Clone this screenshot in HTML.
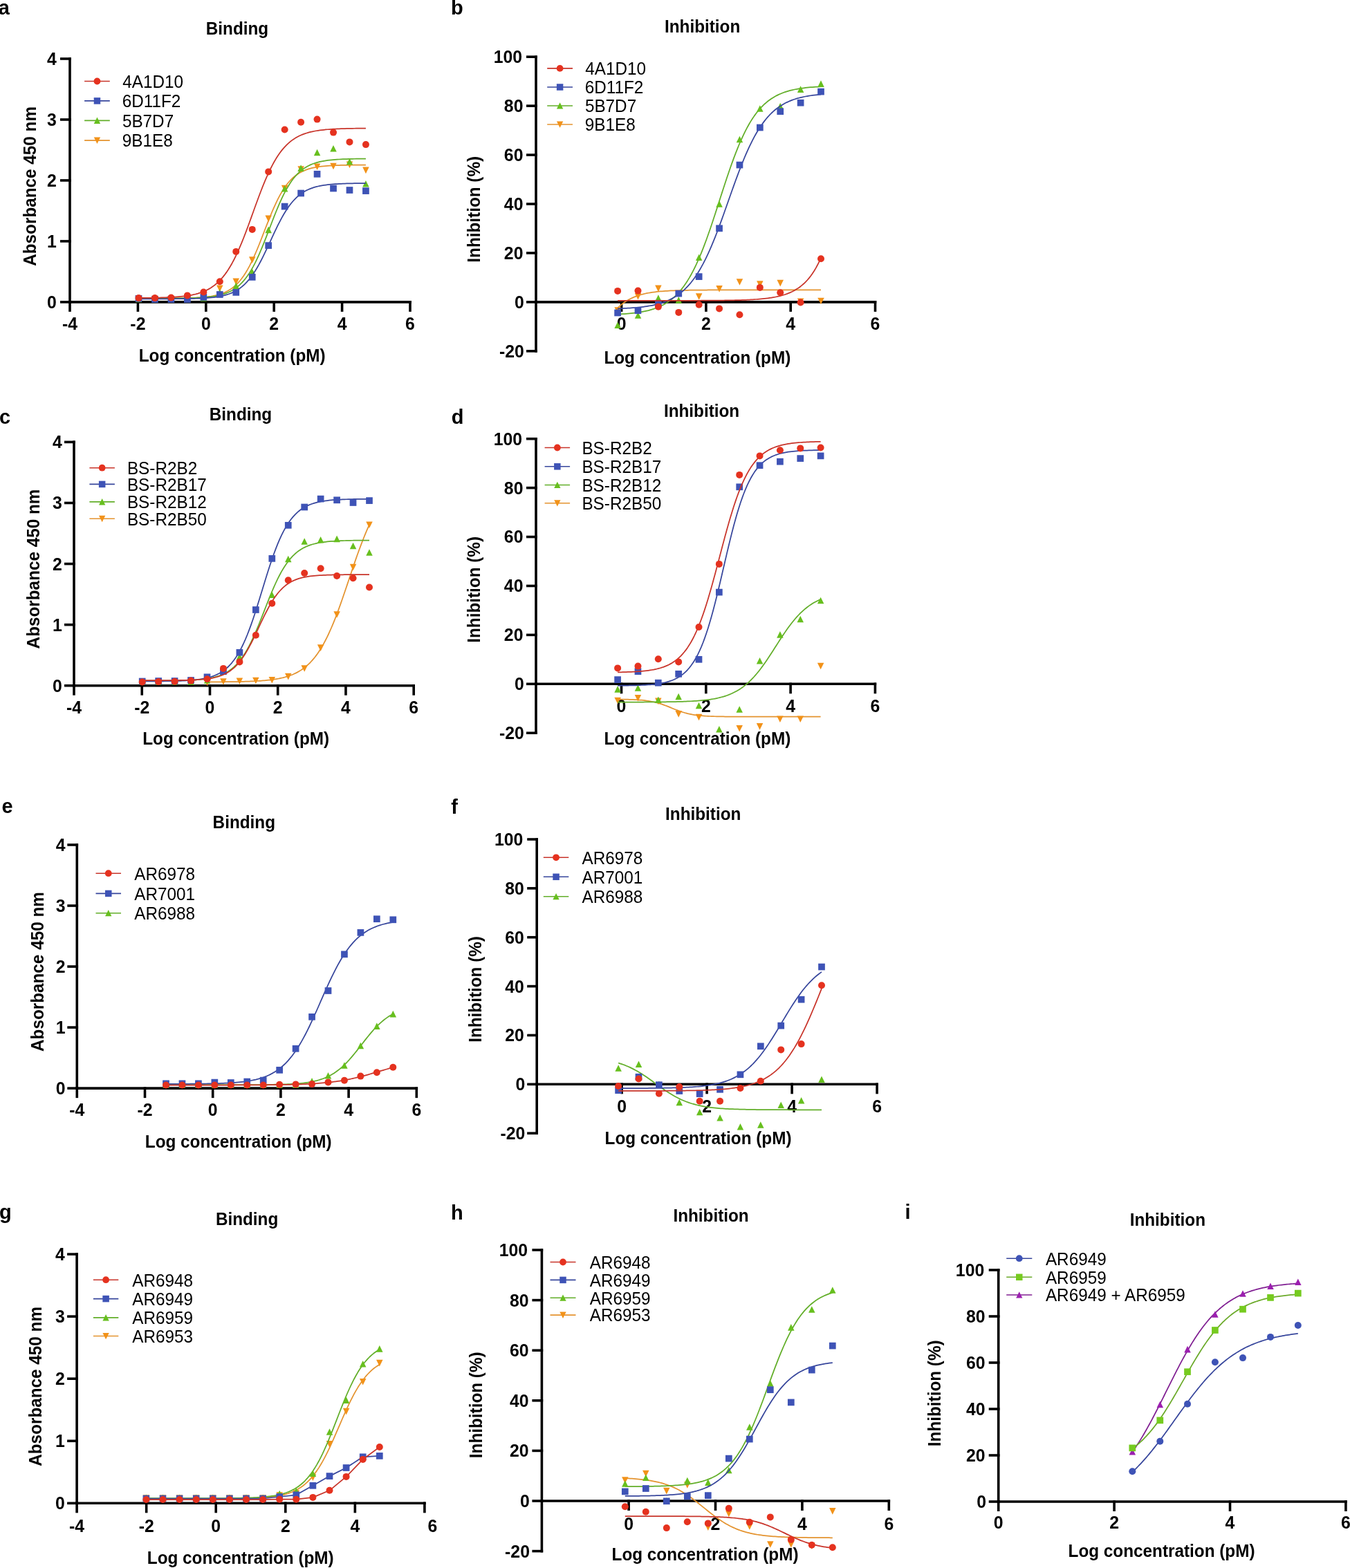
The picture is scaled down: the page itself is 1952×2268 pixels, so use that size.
<!DOCTYPE html>
<html><head><meta charset="utf-8"><title>Binding and inhibition curves</title>
<style>
html,body{margin:0;padding:0;background:#fff;}
body{width:1952px;height:2268px;overflow:hidden;}
svg{display:block;}
svg text{font-family:'Liberation Sans', Arial, Helvetica, sans-serif;fill:#000;}
</style></head>
<body>
<svg width="1952" height="2268" viewBox="0 0 1952 2268">
<rect width="1952" height="2268" fill="#fff"/>
<text transform="translate(-2.20,20.60) scale(1,1.04)" font-size="29.0" font-weight="bold">a</text>
<text transform="translate(297.80,49.70) scale(1,1.04)" font-size="24.3" font-weight="bold">Binding</text>
<text transform="translate(52.00,384.80) rotate(-90) scale(1,1.04)" font-size="24.3" font-weight="bold">Absorbance 450 nm</text>
<text transform="translate(200.70,523.00) scale(1,1.04)" font-size="24.3" font-weight="bold">Log concentration (pM)</text>
<line x1="101.00" y1="83.20" x2="101.00" y2="438.70" stroke="#000" stroke-width="3.6" stroke-linecap="butt"/>
<line x1="87.00" y1="436.90" x2="102.80" y2="436.90" stroke="#000" stroke-width="3.6" stroke-linecap="butt"/>
<text transform="translate(81.92,445.85) scale(1,1.04)" font-size="24.8" font-weight="bold" text-anchor="end">0</text>
<line x1="87.00" y1="348.92" x2="102.80" y2="348.92" stroke="#000" stroke-width="3.6" stroke-linecap="butt"/>
<text transform="translate(81.92,357.88) scale(1,1.04)" font-size="24.8" font-weight="bold" text-anchor="end">1</text>
<line x1="87.00" y1="260.95" x2="102.80" y2="260.95" stroke="#000" stroke-width="3.6" stroke-linecap="butt"/>
<text transform="translate(81.92,269.90) scale(1,1.04)" font-size="24.8" font-weight="bold" text-anchor="end">2</text>
<line x1="87.00" y1="172.98" x2="102.80" y2="172.98" stroke="#000" stroke-width="3.6" stroke-linecap="butt"/>
<text transform="translate(81.92,181.93) scale(1,1.04)" font-size="24.8" font-weight="bold" text-anchor="end">3</text>
<line x1="87.00" y1="85.00" x2="102.80" y2="85.00" stroke="#000" stroke-width="3.6" stroke-linecap="butt"/>
<text transform="translate(81.92,93.95) scale(1,1.04)" font-size="24.8" font-weight="bold" text-anchor="end">4</text>
<line x1="99.20" y1="436.90" x2="594.80" y2="436.90" stroke="#000" stroke-width="3.6" stroke-linecap="butt"/>
<line x1="101.00" y1="435.10" x2="101.00" y2="450.90" stroke="#000" stroke-width="3.6" stroke-linecap="butt"/>
<text transform="translate(101.00,477.31) scale(1,1.04)" font-size="24.8" font-weight="bold" text-anchor="middle">-4</text>
<line x1="199.40" y1="435.10" x2="199.40" y2="450.90" stroke="#000" stroke-width="3.6" stroke-linecap="butt"/>
<text transform="translate(199.40,477.31) scale(1,1.04)" font-size="24.8" font-weight="bold" text-anchor="middle">-2</text>
<line x1="297.80" y1="435.10" x2="297.80" y2="450.90" stroke="#000" stroke-width="3.6" stroke-linecap="butt"/>
<text transform="translate(297.80,477.31) scale(1,1.04)" font-size="24.8" font-weight="bold" text-anchor="middle">0</text>
<line x1="396.20" y1="435.10" x2="396.20" y2="450.90" stroke="#000" stroke-width="3.6" stroke-linecap="butt"/>
<text transform="translate(396.20,477.31) scale(1,1.04)" font-size="24.8" font-weight="bold" text-anchor="middle">2</text>
<line x1="494.60" y1="435.10" x2="494.60" y2="450.90" stroke="#000" stroke-width="3.6" stroke-linecap="butt"/>
<text transform="translate(494.60,477.31) scale(1,1.04)" font-size="24.8" font-weight="bold" text-anchor="middle">4</text>
<line x1="593.00" y1="435.10" x2="593.00" y2="450.90" stroke="#000" stroke-width="3.6" stroke-linecap="butt"/>
<text transform="translate(593.00,477.31) scale(1,1.04)" font-size="24.8" font-weight="bold" text-anchor="middle">6</text>
<line x1="122.10" y1="117.50" x2="158.80" y2="117.50" stroke="#C8342A" stroke-width="1.6"/>
<circle cx="140.45" cy="117.50" r="4.90" fill="#E5321F"/>
<text transform="translate(177.30,126.80) scale(1,1.04)" font-size="24.3" font-weight="normal">4A1D10</text>
<line x1="122.10" y1="145.90" x2="158.80" y2="145.90" stroke="#37469C" stroke-width="1.6"/>
<rect x="135.70" y="141.15" width="9.51" height="9.51" fill="#3E53B6"/>
<text transform="translate(176.70,155.20) scale(1,1.04)" font-size="24.3" font-weight="normal">6D11F2</text>
<line x1="122.10" y1="174.40" x2="158.80" y2="174.40" stroke="#62AE29" stroke-width="1.6"/>
<polygon points="140.45,169.54 145.10,178.96 135.79,178.96" fill="#67BF1E"/>
<text transform="translate(176.90,183.70) scale(1,1.04)" font-size="24.3" font-weight="normal">5B7D7</text>
<line x1="122.10" y1="203.10" x2="158.80" y2="203.10" stroke="#E4932F" stroke-width="1.6"/>
<polygon points="140.45,207.96 145.10,198.54 135.79,198.54" fill="#F29219"/>
<text transform="translate(176.80,212.40) scale(1,1.04)" font-size="24.3" font-weight="normal">9B1E8</text>
<path d="M200.50,431.60 L203.26,431.60 L206.02,431.59 L208.78,431.59 L211.54,431.59 L214.30,431.59 L217.06,431.58 L219.82,431.58 L222.58,431.57 L225.34,431.57 L228.10,431.56 L230.86,431.55 L233.62,431.54 L236.38,431.53 L239.14,431.52 L241.90,431.51 L244.66,431.49 L247.42,431.47 L250.18,431.45 L252.94,431.42 L255.70,431.39 L258.46,431.36 L261.22,431.31 L263.98,431.27 L266.74,431.21 L269.50,431.15 L272.26,431.08 L275.02,430.99 L277.78,430.89 L280.54,430.78 L283.30,430.65 L286.06,430.49 L288.82,430.32 L291.58,430.11 L294.34,429.88 L297.10,429.60 L299.86,429.29 L302.62,428.92 L305.38,428.50 L308.14,428.01 L310.90,427.45 L313.66,426.80 L316.42,426.05 L319.18,425.19 L321.94,424.21 L324.70,423.08 L327.46,421.79 L330.22,420.31 L332.98,418.62 L335.74,416.71 L338.50,414.54 L341.26,412.09 L344.02,409.34 L346.78,406.25 L349.54,402.80 L352.30,398.98 L355.06,394.76 L357.82,390.14 L360.58,385.11 L363.34,379.68 L366.10,373.87 L368.86,367.70 L371.62,361.22 L374.38,354.47 L377.14,347.51 L379.90,340.42 L382.66,333.28 L385.42,326.15 L388.18,319.12 L390.94,312.25 L393.70,305.63 L396.46,299.29 L399.22,293.30 L401.98,287.67 L404.74,282.44 L407.50,277.61 L410.26,273.19 L413.02,269.17 L415.78,265.54 L418.54,262.27 L421.30,259.35 L424.06,256.74 L426.82,254.44 L429.58,252.40 L432.34,250.60 L435.10,249.02 L437.86,247.64 L440.62,246.43 L443.38,245.37 L446.14,244.45 L448.90,243.65 L451.66,242.95 L454.42,242.35 L457.18,241.82 L459.94,241.37 L462.70,240.98 L465.46,240.63 L468.22,240.34 L470.98,240.08 L473.74,239.86 L476.50,239.67 L479.26,239.51 L482.02,239.37 L484.78,239.24 L487.54,239.14 L490.30,239.05 L493.06,238.97 L495.82,238.90 L498.58,238.84 L501.34,238.79 L504.10,238.75 L506.86,238.71 L509.62,238.68 L512.38,238.65 L515.14,238.62 L517.90,238.60 L520.66,238.58 L523.42,238.57 L526.18,238.56 L528.94,238.54" fill="none" stroke="#E4932F" stroke-width="1.75" stroke-linejoin="round"/>
<polygon points="200.50,437.45 205.25,427.85 195.75,427.85" fill="#F29219"/>
<polygon points="223.96,437.45 228.71,427.85 219.21,427.85" fill="#F29219"/>
<polygon points="247.42,437.45 252.17,427.85 242.67,427.85" fill="#F29219"/>
<polygon points="270.88,437.45 275.63,427.85 266.13,427.85" fill="#F29219"/>
<polygon points="294.34,434.95 299.09,425.35 289.59,425.35" fill="#F29219"/>
<polygon points="317.80,422.15 322.55,412.55 313.05,412.55" fill="#F29219"/>
<polygon points="341.26,412.15 346.01,402.55 336.51,402.55" fill="#F29219"/>
<polygon points="364.72,380.75 369.47,371.15 359.97,371.15" fill="#F29219"/>
<polygon points="388.18,321.15 392.93,311.55 383.43,311.55" fill="#F29219"/>
<polygon points="411.64,277.25 416.39,267.65 406.89,267.65" fill="#F29219"/>
<polygon points="435.10,249.75 439.85,240.15 430.35,240.15" fill="#F29219"/>
<polygon points="458.56,246.05 463.31,236.45 453.81,236.45" fill="#F29219"/>
<polygon points="482.02,245.35 486.77,235.75 477.27,235.75" fill="#F29219"/>
<polygon points="505.48,243.15 510.23,233.55 500.73,233.55" fill="#F29219"/>
<polygon points="528.94,251.15 533.69,241.55 524.19,241.55" fill="#F29219"/>
<path d="M200.50,431.64 L203.26,431.64 L206.02,431.64 L208.78,431.64 L211.54,431.64 L214.30,431.63 L217.06,431.63 L219.82,431.63 L222.58,431.62 L225.34,431.62 L228.10,431.61 L230.86,431.60 L233.62,431.59 L236.38,431.58 L239.14,431.57 L241.90,431.56 L244.66,431.55 L247.42,431.53 L250.18,431.51 L252.94,431.49 L255.70,431.46 L258.46,431.43 L261.22,431.40 L263.98,431.36 L266.74,431.31 L269.50,431.26 L272.26,431.19 L275.02,431.12 L277.78,431.04 L280.54,430.95 L283.30,430.84 L286.06,430.72 L288.82,430.57 L291.58,430.41 L294.34,430.21 L297.10,430.00 L299.86,429.74 L302.62,429.45 L305.38,429.12 L308.14,428.73 L310.90,428.29 L313.66,427.78 L316.42,427.20 L319.18,426.53 L321.94,425.77 L324.70,424.90 L327.46,423.90 L330.22,422.76 L332.98,421.46 L335.74,419.98 L338.50,418.31 L341.26,416.41 L344.02,414.27 L346.78,411.86 L349.54,409.15 L352.30,406.13 L355.06,402.77 L357.82,399.05 L360.58,394.95 L363.34,390.46 L366.10,385.57 L368.86,380.29 L371.62,374.62 L374.38,368.59 L377.14,362.22 L379.90,355.57 L382.66,348.67 L385.42,341.60 L388.18,334.41 L390.94,327.19 L393.70,320.00 L396.46,312.91 L399.22,306.00 L401.98,299.33 L404.74,292.94 L407.50,286.88 L410.26,281.19 L413.02,275.87 L415.78,270.96 L418.54,266.43 L421.30,262.30 L424.06,258.55 L426.82,255.17 L429.58,252.12 L432.34,249.39 L435.10,246.96 L437.86,244.80 L440.62,242.89 L443.38,241.19 L446.14,239.70 L448.90,238.39 L451.66,237.24 L454.42,236.23 L457.18,235.35 L459.94,234.58 L462.70,233.90 L465.46,233.31 L468.22,232.80 L470.98,232.36 L473.74,231.97 L476.50,231.63 L479.26,231.34 L482.02,231.08 L484.78,230.86 L487.54,230.66 L490.30,230.50 L493.06,230.35 L495.82,230.23 L498.58,230.12 L501.34,230.02 L504.10,229.94 L506.86,229.87 L509.62,229.81 L512.38,229.75 L515.14,229.70 L517.90,229.66 L520.66,229.63 L523.42,229.60 L526.18,229.57 L528.94,229.55" fill="none" stroke="#62AE29" stroke-width="1.75" stroke-linejoin="round"/>
<polygon points="200.50,427.55 205.25,437.15 195.75,437.15" fill="#67BF1E"/>
<polygon points="223.96,427.55 228.71,437.15 219.21,437.15" fill="#67BF1E"/>
<polygon points="247.42,427.55 252.17,437.15 242.67,437.15" fill="#67BF1E"/>
<polygon points="270.88,427.55 275.63,437.15 266.13,437.15" fill="#67BF1E"/>
<polygon points="294.34,426.05 299.09,435.65 289.59,435.65" fill="#67BF1E"/>
<polygon points="317.80,417.95 322.55,427.55 313.05,427.55" fill="#67BF1E"/>
<polygon points="341.26,408.55 346.01,418.15 336.51,418.15" fill="#67BF1E"/>
<polygon points="364.72,388.45 369.47,398.05 359.97,398.05" fill="#67BF1E"/>
<polygon points="388.18,327.55 392.93,337.15 383.43,337.15" fill="#67BF1E"/>
<polygon points="411.64,267.95 416.39,277.55 406.89,277.55" fill="#67BF1E"/>
<polygon points="435.10,238.35 439.85,247.95 430.35,247.95" fill="#67BF1E"/>
<polygon points="458.56,215.75 463.31,225.35 453.81,225.35" fill="#67BF1E"/>
<polygon points="482.02,209.95 486.77,219.55 477.27,219.55" fill="#67BF1E"/>
<polygon points="505.48,228.85 510.23,238.45 500.73,238.45" fill="#67BF1E"/>
<polygon points="528.94,260.95 533.69,270.55 524.19,270.55" fill="#67BF1E"/>
<path d="M200.50,432.37 L203.26,432.37 L206.02,432.36 L208.78,432.36 L211.54,432.36 L214.30,432.36 L217.06,432.35 L219.82,432.35 L222.58,432.35 L225.34,432.34 L228.10,432.34 L230.86,432.33 L233.62,432.33 L236.38,432.32 L239.14,432.31 L241.90,432.30 L244.66,432.29 L247.42,432.28 L250.18,432.26 L252.94,432.24 L255.70,432.22 L258.46,432.20 L261.22,432.17 L263.98,432.14 L266.74,432.11 L269.50,432.07 L272.26,432.02 L275.02,431.97 L277.78,431.90 L280.54,431.83 L283.30,431.75 L286.06,431.65 L288.82,431.54 L291.58,431.41 L294.34,431.27 L297.10,431.10 L299.86,430.90 L302.62,430.68 L305.38,430.42 L308.14,430.12 L310.90,429.78 L313.66,429.39 L316.42,428.94 L319.18,428.43 L321.94,427.83 L324.70,427.16 L327.46,426.38 L330.22,425.50 L332.98,424.49 L335.74,423.34 L338.50,422.04 L341.26,420.56 L344.02,418.89 L346.78,417.01 L349.54,414.89 L352.30,412.52 L355.06,409.88 L357.82,406.94 L360.58,403.70 L363.34,400.14 L366.10,396.25 L368.86,392.03 L371.62,387.49 L374.38,382.64 L377.14,377.49 L379.90,372.09 L382.66,366.47 L385.42,360.67 L388.18,354.75 L390.94,348.77 L393.70,342.79 L396.46,336.87 L399.22,331.07 L401.98,325.44 L404.74,320.03 L407.50,314.87 L410.26,310.00 L413.02,305.45 L415.78,301.22 L418.54,297.32 L421.30,293.74 L424.06,290.49 L426.82,287.54 L429.58,284.88 L432.34,282.50 L435.10,280.38 L437.86,278.48 L440.62,276.80 L443.38,275.32 L446.14,274.01 L448.90,272.86 L451.66,271.84 L454.42,270.95 L457.18,270.18 L459.94,269.50 L462.70,268.90 L465.46,268.38 L468.22,267.93 L470.98,267.54 L473.74,267.19 L476.50,266.90 L479.26,266.64 L482.02,266.41 L484.78,266.21 L487.54,266.04 L490.30,265.90 L493.06,265.77 L495.82,265.66 L498.58,265.56 L501.34,265.48 L504.10,265.40 L506.86,265.34 L509.62,265.29 L512.38,265.24 L515.14,265.20 L517.90,265.16 L520.66,265.13 L523.42,265.10 L526.18,265.08 L528.94,265.06" fill="none" stroke="#37469C" stroke-width="1.75" stroke-linejoin="round"/>
<rect x="195.65" y="426.95" width="9.70" height="9.70" fill="#3E53B6"/>
<rect x="219.11" y="428.15" width="9.70" height="9.70" fill="#3E53B6"/>
<rect x="242.57" y="428.15" width="9.70" height="9.70" fill="#3E53B6"/>
<rect x="266.03" y="428.15" width="9.70" height="9.70" fill="#3E53B6"/>
<rect x="289.49" y="425.05" width="9.70" height="9.70" fill="#3E53B6"/>
<rect x="312.95" y="421.15" width="9.70" height="9.70" fill="#3E53B6"/>
<rect x="336.41" y="418.05" width="9.70" height="9.70" fill="#3E53B6"/>
<rect x="359.87" y="396.05" width="9.70" height="9.70" fill="#3E53B6"/>
<rect x="383.33" y="350.25" width="9.70" height="9.70" fill="#3E53B6"/>
<rect x="406.79" y="293.75" width="9.70" height="9.70" fill="#3E53B6"/>
<rect x="430.25" y="274.65" width="9.70" height="9.70" fill="#3E53B6"/>
<rect x="453.71" y="246.95" width="9.70" height="9.70" fill="#3E53B6"/>
<rect x="477.17" y="267.65" width="9.70" height="9.70" fill="#3E53B6"/>
<rect x="500.63" y="270.15" width="9.70" height="9.70" fill="#3E53B6"/>
<rect x="524.09" y="271.25" width="9.70" height="9.70" fill="#3E53B6"/>
<path d="M200.50,430.97 L203.26,430.96 L206.02,430.93 L208.78,430.91 L211.54,430.88 L214.30,430.85 L217.06,430.82 L219.82,430.78 L222.58,430.73 L225.34,430.68 L228.10,430.63 L230.86,430.56 L233.62,430.49 L236.38,430.41 L239.14,430.31 L241.90,430.20 L244.66,430.08 L247.42,429.95 L250.18,429.79 L252.94,429.62 L255.70,429.42 L258.46,429.20 L261.22,428.94 L263.98,428.66 L266.74,428.34 L269.50,427.97 L272.26,427.56 L275.02,427.09 L277.78,426.57 L280.54,425.98 L283.30,425.31 L286.06,424.56 L288.82,423.71 L291.58,422.76 L294.34,421.69 L297.10,420.49 L299.86,419.15 L302.62,417.64 L305.38,415.96 L308.14,414.08 L310.90,412.00 L313.66,409.67 L316.42,407.10 L319.18,404.25 L321.94,401.12 L324.70,397.67 L327.46,393.89 L330.22,389.77 L332.98,385.30 L335.74,380.46 L338.50,375.25 L341.26,369.68 L344.02,363.74 L346.78,357.47 L349.54,350.87 L352.30,343.98 L355.06,336.83 L357.82,329.48 L360.58,321.96 L363.34,314.34 L366.10,306.68 L368.86,299.02 L371.62,291.44 L374.38,283.98 L377.14,276.71 L379.90,269.66 L382.66,262.89 L385.42,256.42 L388.18,250.29 L390.94,244.50 L393.70,239.08 L396.46,234.03 L399.22,229.34 L401.98,225.01 L404.74,221.04 L407.50,217.40 L410.26,214.08 L413.02,211.07 L415.78,208.34 L418.54,205.87 L421.30,203.65 L424.06,201.65 L426.82,199.86 L429.58,198.25 L432.34,196.82 L435.10,195.53 L437.86,194.39 L440.62,193.37 L443.38,192.47 L446.14,191.66 L448.90,190.94 L451.66,190.31 L454.42,189.75 L457.18,189.25 L459.94,188.80 L462.70,188.41 L465.46,188.07 L468.22,187.76 L470.98,187.49 L473.74,187.25 L476.50,187.04 L479.26,186.85 L482.02,186.68 L484.78,186.53 L487.54,186.41 L490.30,186.29 L493.06,186.19 L495.82,186.10 L498.58,186.02 L501.34,185.95 L504.10,185.89 L506.86,185.84 L509.62,185.79 L512.38,185.75 L515.14,185.71 L517.90,185.68 L520.66,185.65 L523.42,185.62 L526.18,185.60 L528.94,185.58" fill="none" stroke="#C8342A" stroke-width="1.75" stroke-linejoin="round"/>
<circle cx="200.50" cy="431.10" r="5.00" fill="#E5321F"/>
<circle cx="223.96" cy="431.10" r="5.00" fill="#E5321F"/>
<circle cx="247.42" cy="430.50" r="5.00" fill="#E5321F"/>
<circle cx="270.88" cy="427.40" r="5.00" fill="#E5321F"/>
<circle cx="294.34" cy="422.50" r="5.00" fill="#E5321F"/>
<circle cx="317.80" cy="407.20" r="5.00" fill="#E5321F"/>
<circle cx="341.26" cy="363.90" r="5.00" fill="#E5321F"/>
<circle cx="364.72" cy="331.90" r="5.00" fill="#E5321F"/>
<circle cx="388.18" cy="248.40" r="5.00" fill="#E5321F"/>
<circle cx="411.64" cy="187.50" r="5.00" fill="#E5321F"/>
<circle cx="435.10" cy="176.70" r="5.00" fill="#E5321F"/>
<circle cx="458.56" cy="172.60" r="5.00" fill="#E5321F"/>
<circle cx="482.02" cy="191.60" r="5.00" fill="#E5321F"/>
<circle cx="505.48" cy="205.40" r="5.00" fill="#E5321F"/>
<circle cx="528.94" cy="209.10" r="5.00" fill="#E5321F"/>
<text transform="translate(652.10,20.60) scale(1,1.04)" font-size="29.0" font-weight="bold">b</text>
<text transform="translate(961.00,47.30) scale(1,1.04)" font-size="24.3" font-weight="bold">Inhibition</text>
<text transform="translate(694.20,379.65) rotate(-90) scale(1,1.04)" font-size="24.3" font-weight="bold">Inhibition (%)</text>
<text transform="translate(873.40,526.00) scale(1,1.04)" font-size="24.3" font-weight="bold">Log concentration (pM)</text>
<line x1="775.00" y1="80.40" x2="775.00" y2="509.64" stroke="#000" stroke-width="3.6" stroke-linecap="butt"/>
<line x1="761.00" y1="82.20" x2="776.80" y2="82.20" stroke="#000" stroke-width="3.6" stroke-linecap="butt"/>
<text transform="translate(755.02,91.15) scale(1,1.04)" font-size="24.8" font-weight="bold" text-anchor="end">100</text>
<line x1="761.00" y1="153.14" x2="776.80" y2="153.14" stroke="#000" stroke-width="3.6" stroke-linecap="butt"/>
<text transform="translate(756.42,162.09) scale(1,1.04)" font-size="24.8" font-weight="bold" text-anchor="end">80</text>
<line x1="761.00" y1="224.08" x2="776.80" y2="224.08" stroke="#000" stroke-width="3.6" stroke-linecap="butt"/>
<text transform="translate(756.42,233.03) scale(1,1.04)" font-size="24.8" font-weight="bold" text-anchor="end">60</text>
<line x1="761.00" y1="295.02" x2="776.80" y2="295.02" stroke="#000" stroke-width="3.6" stroke-linecap="butt"/>
<text transform="translate(756.42,303.97) scale(1,1.04)" font-size="24.8" font-weight="bold" text-anchor="end">40</text>
<line x1="761.00" y1="365.96" x2="776.80" y2="365.96" stroke="#000" stroke-width="3.6" stroke-linecap="butt"/>
<text transform="translate(756.42,374.91) scale(1,1.04)" font-size="24.8" font-weight="bold" text-anchor="end">20</text>
<line x1="761.00" y1="436.90" x2="776.80" y2="436.90" stroke="#000" stroke-width="3.6" stroke-linecap="butt"/>
<text transform="translate(757.82,445.85) scale(1,1.04)" font-size="24.8" font-weight="bold" text-anchor="end">0</text>
<line x1="761.00" y1="507.84" x2="776.80" y2="507.84" stroke="#000" stroke-width="3.6" stroke-linecap="butt"/>
<text transform="translate(757.82,516.79) scale(1,1.04)" font-size="24.8" font-weight="bold" text-anchor="end">-20</text>
<line x1="773.20" y1="436.90" x2="1267.30" y2="436.90" stroke="#000" stroke-width="3.6" stroke-linecap="butt"/>
<line x1="898.60" y1="435.10" x2="898.60" y2="450.90" stroke="#000" stroke-width="3.6" stroke-linecap="butt"/>
<text transform="translate(898.60,477.21) scale(1,1.04)" font-size="24.8" font-weight="bold" text-anchor="middle">0</text>
<line x1="1020.90" y1="435.10" x2="1020.90" y2="450.90" stroke="#000" stroke-width="3.6" stroke-linecap="butt"/>
<text transform="translate(1020.90,477.21) scale(1,1.04)" font-size="24.8" font-weight="bold" text-anchor="middle">2</text>
<line x1="1143.20" y1="435.10" x2="1143.20" y2="450.90" stroke="#000" stroke-width="3.6" stroke-linecap="butt"/>
<text transform="translate(1143.20,477.21) scale(1,1.04)" font-size="24.8" font-weight="bold" text-anchor="middle">4</text>
<line x1="1265.50" y1="435.10" x2="1265.50" y2="450.90" stroke="#000" stroke-width="3.6" stroke-linecap="butt"/>
<text transform="translate(1265.50,477.21) scale(1,1.04)" font-size="24.8" font-weight="bold" text-anchor="middle">6</text>
<line x1="791.20" y1="98.90" x2="828.00" y2="98.90" stroke="#C8342A" stroke-width="1.6"/>
<circle cx="809.60" cy="98.90" r="4.90" fill="#E5321F"/>
<text transform="translate(846.30,108.20) scale(1,1.04)" font-size="24.3" font-weight="normal">4A1D10</text>
<line x1="791.20" y1="126.00" x2="828.00" y2="126.00" stroke="#37469C" stroke-width="1.6"/>
<rect x="804.85" y="121.25" width="9.51" height="9.51" fill="#3E53B6"/>
<text transform="translate(845.70,135.30) scale(1,1.04)" font-size="24.3" font-weight="normal">6D11F2</text>
<line x1="791.20" y1="153.00" x2="828.00" y2="153.00" stroke="#62AE29" stroke-width="1.6"/>
<polygon points="809.60,148.14 814.25,157.56 804.95,157.56" fill="#67BF1E"/>
<text transform="translate(845.90,162.30) scale(1,1.04)" font-size="24.3" font-weight="normal">5B7D7</text>
<line x1="791.20" y1="180.00" x2="828.00" y2="180.00" stroke="#E4932F" stroke-width="1.6"/>
<polygon points="809.60,184.86 814.25,175.44 804.95,175.44" fill="#F29219"/>
<text transform="translate(845.80,189.30) scale(1,1.04)" font-size="24.3" font-weight="normal">9B1E8</text>
<path d="M893.10,445.30 L895.57,443.05 L898.04,440.97 L900.51,439.04 L902.98,437.27 L905.45,435.63 L907.92,434.13 L910.39,432.76 L912.86,431.50 L915.33,430.36 L917.80,429.31 L920.27,428.36 L922.74,427.49 L925.21,426.71 L927.68,426.00 L930.15,425.35 L932.62,424.76 L935.09,424.23 L937.56,423.76 L940.03,423.32 L942.49,422.93 L944.96,422.58 L947.43,422.26 L949.90,421.97 L952.37,421.71 L954.84,421.48 L957.31,421.27 L959.78,421.08 L962.25,420.91 L964.72,420.76 L967.19,420.62 L969.66,420.49 L972.13,420.38 L974.60,420.28 L977.07,420.19 L979.54,420.11 L982.01,420.04 L984.48,419.97 L986.95,419.91 L989.42,419.86 L991.89,419.81 L994.36,419.77 L996.83,419.73 L999.30,419.69 L1001.77,419.66 L1004.24,419.63 L1006.71,419.61 L1009.18,419.58 L1011.65,419.56 L1014.12,419.55 L1016.59,419.53 L1019.06,419.51 L1021.53,419.50 L1024.00,419.49 L1026.47,419.48 L1028.94,419.47 L1031.41,419.46 L1033.88,419.45 L1036.35,419.44 L1038.82,419.44 L1041.28,419.43 L1043.75,419.43 L1046.22,419.42 L1048.69,419.42 L1051.16,419.42 L1053.63,419.41 L1056.10,419.41 L1058.57,419.41 L1061.04,419.40 L1063.51,419.40 L1065.98,419.40 L1068.45,419.40 L1070.92,419.40 L1073.39,419.40 L1075.86,419.39 L1078.33,419.39 L1080.80,419.39 L1083.27,419.39 L1085.74,419.39 L1088.21,419.39 L1090.68,419.39 L1093.15,419.39 L1095.62,419.39 L1098.09,419.39 L1100.56,419.39 L1103.03,419.39 L1105.50,419.39 L1107.97,419.39 L1110.44,419.39 L1112.91,419.38 L1115.38,419.38 L1117.85,419.38 L1120.32,419.38 L1122.79,419.38 L1125.26,419.38 L1127.73,419.38 L1130.20,419.38 L1132.67,419.38 L1135.14,419.38 L1137.61,419.38 L1140.07,419.38 L1142.54,419.38 L1145.01,419.38 L1147.48,419.38 L1149.95,419.38 L1152.42,419.38 L1154.89,419.38 L1157.36,419.38 L1159.83,419.38 L1162.30,419.38 L1164.77,419.38 L1167.24,419.38 L1169.71,419.38 L1172.18,419.38 L1174.65,419.38 L1177.12,419.38 L1179.59,419.38 L1182.06,419.38 L1184.53,419.38 L1187.00,419.38" fill="none" stroke="#E4932F" stroke-width="1.75" stroke-linejoin="round"/>
<polygon points="893.10,453.75 897.85,444.15 888.35,444.15" fill="#F29219"/>
<polygon points="922.49,433.55 927.24,423.95 917.74,423.95" fill="#F29219"/>
<polygon points="951.88,422.15 956.63,412.55 947.13,412.55" fill="#F29219"/>
<polygon points="981.27,429.55 986.02,419.95 976.52,419.95" fill="#F29219"/>
<polygon points="1010.66,433.75 1015.41,424.15 1005.91,424.15" fill="#F29219"/>
<polygon points="1040.05,422.65 1044.80,413.05 1035.30,413.05" fill="#F29219"/>
<polygon points="1069.44,412.85 1074.19,403.25 1064.69,403.25" fill="#F29219"/>
<polygon points="1098.83,415.95 1103.58,406.35 1094.08,406.35" fill="#F29219"/>
<polygon points="1128.22,414.45 1132.97,404.85 1123.47,404.85" fill="#F29219"/>
<polygon points="1157.61,441.15 1162.36,431.55 1152.86,431.55" fill="#F29219"/>
<polygon points="1187.00,440.35 1191.75,430.75 1182.25,430.75" fill="#F29219"/>
<path d="M893.10,454.61 L895.57,454.49 L898.04,454.35 L900.51,454.19 L902.98,454.02 L905.45,453.84 L907.92,453.64 L910.39,453.41 L912.86,453.17 L915.33,452.91 L917.80,452.61 L920.27,452.29 L922.74,451.94 L925.21,451.56 L927.68,451.14 L930.15,450.69 L932.62,450.19 L935.09,449.64 L937.56,449.04 L940.03,448.38 L942.49,447.67 L944.96,446.89 L947.43,446.04 L949.90,445.11 L952.37,444.10 L954.84,442.99 L957.31,441.79 L959.78,440.48 L962.25,439.06 L964.72,437.51 L967.19,435.83 L969.66,434.01 L972.13,432.04 L974.60,429.90 L977.07,427.60 L979.54,425.10 L982.01,422.41 L984.48,419.52 L986.95,416.41 L989.42,413.07 L991.89,409.49 L994.36,405.67 L996.83,401.59 L999.30,397.26 L1001.77,392.65 L1004.24,387.77 L1006.71,382.62 L1009.18,377.20 L1011.65,371.51 L1014.12,365.55 L1016.59,359.33 L1019.06,352.87 L1021.53,346.18 L1024.00,339.28 L1026.47,332.18 L1028.94,324.92 L1031.41,317.51 L1033.88,309.99 L1036.35,302.38 L1038.82,294.72 L1041.28,287.04 L1043.75,279.37 L1046.22,271.74 L1048.69,264.20 L1051.16,256.76 L1053.63,249.45 L1056.10,242.31 L1058.57,235.36 L1061.04,228.61 L1063.51,222.09 L1065.98,215.82 L1068.45,209.79 L1070.92,204.03 L1073.39,198.54 L1075.86,193.32 L1078.33,188.37 L1080.80,183.70 L1083.27,179.30 L1085.74,175.15 L1088.21,171.27 L1090.68,167.63 L1093.15,164.24 L1095.62,161.07 L1098.09,158.12 L1100.56,155.38 L1103.03,152.84 L1105.50,150.49 L1107.97,148.31 L1110.44,146.29 L1112.91,144.44 L1115.38,142.72 L1117.85,141.14 L1120.32,139.69 L1122.79,138.35 L1125.26,137.13 L1127.73,136.00 L1130.20,134.96 L1132.67,134.01 L1135.14,133.14 L1137.61,132.35 L1140.07,131.62 L1142.54,130.95 L1145.01,130.33 L1147.48,129.77 L1149.95,129.26 L1152.42,128.79 L1154.89,128.37 L1157.36,127.98 L1159.83,127.62 L1162.30,127.29 L1164.77,126.99 L1167.24,126.72 L1169.71,126.47 L1172.18,126.24 L1174.65,126.04 L1177.12,125.85 L1179.59,125.68 L1182.06,125.52 L1184.53,125.37 L1187.00,125.24" fill="none" stroke="#62AE29" stroke-width="1.75" stroke-linejoin="round"/>
<polygon points="893.10,465.45 897.85,475.05 888.35,475.05" fill="#67BF1E"/>
<polygon points="922.49,451.25 927.24,460.85 917.74,460.85" fill="#67BF1E"/>
<polygon points="951.88,426.35 956.63,435.95 947.13,435.95" fill="#67BF1E"/>
<polygon points="981.27,429.05 986.02,438.65 976.52,438.65" fill="#67BF1E"/>
<polygon points="1010.66,367.45 1015.41,377.05 1005.91,377.05" fill="#67BF1E"/>
<polygon points="1040.05,290.25 1044.80,299.85 1035.30,299.85" fill="#67BF1E"/>
<polygon points="1069.44,196.65 1074.19,206.25 1064.69,206.25" fill="#67BF1E"/>
<polygon points="1098.83,152.25 1103.58,161.85 1094.08,161.85" fill="#67BF1E"/>
<polygon points="1128.22,148.85 1132.97,158.45 1123.47,158.45" fill="#67BF1E"/>
<polygon points="1157.61,124.35 1162.36,133.95 1152.86,133.95" fill="#67BF1E"/>
<polygon points="1187.00,116.35 1191.75,125.95 1182.25,125.95" fill="#67BF1E"/>
<path d="M893.10,446.38 L895.57,446.30 L898.04,446.20 L900.51,446.10 L902.98,445.98 L905.45,445.86 L907.92,445.72 L910.39,445.57 L912.86,445.41 L915.33,445.23 L917.80,445.04 L920.27,444.82 L922.74,444.59 L925.21,444.34 L927.68,444.06 L930.15,443.76 L932.62,443.43 L935.09,443.07 L937.56,442.67 L940.03,442.24 L942.49,441.78 L944.96,441.27 L947.43,440.71 L949.90,440.11 L952.37,439.45 L954.84,438.73 L957.31,437.95 L959.78,437.09 L962.25,436.17 L964.72,435.16 L967.19,434.07 L969.66,432.89 L972.13,431.60 L974.60,430.21 L977.07,428.70 L979.54,427.06 L982.01,425.29 L984.48,423.39 L986.95,421.33 L989.42,419.11 L991.89,416.72 L994.36,414.15 L996.83,411.40 L999.30,408.45 L1001.77,405.29 L1004.24,401.92 L1006.71,398.33 L1009.18,394.51 L1011.65,390.45 L1014.12,386.16 L1016.59,381.63 L1019.06,376.85 L1021.53,371.83 L1024.00,366.58 L1026.47,361.09 L1028.94,355.38 L1031.41,349.45 L1033.88,343.31 L1036.35,337.00 L1038.82,330.51 L1041.28,323.87 L1043.75,317.10 L1046.22,310.24 L1048.69,303.29 L1051.16,296.30 L1053.63,289.28 L1056.10,282.27 L1058.57,275.29 L1061.04,268.37 L1063.51,261.54 L1065.98,254.83 L1068.45,248.25 L1070.92,241.83 L1073.39,235.59 L1075.86,229.54 L1078.33,223.70 L1080.80,218.08 L1083.27,212.68 L1085.74,207.53 L1088.21,202.61 L1090.68,197.94 L1093.15,193.50 L1095.62,189.31 L1098.09,185.35 L1100.56,181.63 L1103.03,178.13 L1105.50,174.85 L1107.97,171.78 L1110.44,168.91 L1112.91,166.24 L1115.38,163.75 L1117.85,161.43 L1120.32,159.28 L1122.79,157.28 L1125.26,155.44 L1127.73,153.73 L1130.20,152.14 L1132.67,150.68 L1135.14,149.34 L1137.61,148.09 L1140.07,146.95 L1142.54,145.89 L1145.01,144.92 L1147.48,144.03 L1149.95,143.21 L1152.42,142.45 L1154.89,141.76 L1157.36,141.12 L1159.83,140.54 L1162.30,140.00 L1164.77,139.51 L1167.24,139.06 L1169.71,138.64 L1172.18,138.26 L1174.65,137.92 L1177.12,137.60 L1179.59,137.31 L1182.06,137.04 L1184.53,136.80 L1187.00,136.57" fill="none" stroke="#37469C" stroke-width="1.75" stroke-linejoin="round"/>
<rect x="888.25" y="447.65" width="9.70" height="9.70" fill="#3E53B6"/>
<rect x="917.64" y="444.35" width="9.70" height="9.70" fill="#3E53B6"/>
<rect x="947.03" y="433.85" width="9.70" height="9.70" fill="#3E53B6"/>
<rect x="976.42" y="419.75" width="9.70" height="9.70" fill="#3E53B6"/>
<rect x="1005.81" y="395.25" width="9.70" height="9.70" fill="#3E53B6"/>
<rect x="1035.20" y="325.45" width="9.70" height="9.70" fill="#3E53B6"/>
<rect x="1064.59" y="233.75" width="9.70" height="9.70" fill="#3E53B6"/>
<rect x="1093.98" y="179.65" width="9.70" height="9.70" fill="#3E53B6"/>
<rect x="1123.37" y="156.35" width="9.70" height="9.70" fill="#3E53B6"/>
<rect x="1152.76" y="143.85" width="9.70" height="9.70" fill="#3E53B6"/>
<rect x="1182.15" y="127.75" width="9.70" height="9.70" fill="#3E53B6"/>
<path d="M893.10,434.84 L895.57,434.84 L898.04,434.84 L900.51,434.84 L902.98,434.84 L905.45,434.84 L907.92,434.84 L910.39,434.84 L912.86,434.84 L915.33,434.84 L917.80,434.84 L920.27,434.84 L922.74,434.84 L925.21,434.84 L927.68,434.84 L930.15,434.84 L932.62,434.84 L935.09,434.83 L937.56,434.83 L940.03,434.83 L942.49,434.83 L944.96,434.83 L947.43,434.83 L949.90,434.83 L952.37,434.83 L954.84,434.83 L957.31,434.83 L959.78,434.83 L962.25,434.83 L964.72,434.82 L967.19,434.82 L969.66,434.82 L972.13,434.82 L974.60,434.82 L977.07,434.82 L979.54,434.81 L982.01,434.81 L984.48,434.81 L986.95,434.81 L989.42,434.80 L991.89,434.80 L994.36,434.79 L996.83,434.79 L999.30,434.79 L1001.77,434.78 L1004.24,434.77 L1006.71,434.77 L1009.18,434.76 L1011.65,434.75 L1014.12,434.74 L1016.59,434.74 L1019.06,434.73 L1021.53,434.71 L1024.00,434.70 L1026.47,434.69 L1028.94,434.67 L1031.41,434.66 L1033.88,434.64 L1036.35,434.62 L1038.82,434.60 L1041.28,434.58 L1043.75,434.55 L1046.22,434.52 L1048.69,434.49 L1051.16,434.46 L1053.63,434.42 L1056.10,434.38 L1058.57,434.34 L1061.04,434.29 L1063.51,434.23 L1065.98,434.18 L1068.45,434.11 L1070.92,434.04 L1073.39,433.96 L1075.86,433.88 L1078.33,433.79 L1080.80,433.68 L1083.27,433.57 L1085.74,433.45 L1088.21,433.31 L1090.68,433.16 L1093.15,433.00 L1095.62,432.82 L1098.09,432.63 L1100.56,432.41 L1103.03,432.18 L1105.50,431.92 L1107.97,431.64 L1110.44,431.32 L1112.91,430.98 L1115.38,430.61 L1117.85,430.20 L1120.32,429.75 L1122.79,429.25 L1125.26,428.71 L1127.73,428.12 L1130.20,427.47 L1132.67,426.75 L1135.14,425.97 L1137.61,425.10 L1140.07,424.16 L1142.54,423.12 L1145.01,421.99 L1147.48,420.74 L1149.95,419.37 L1152.42,417.87 L1154.89,416.22 L1157.36,414.42 L1159.83,412.44 L1162.30,410.26 L1164.77,407.88 L1167.24,405.26 L1169.71,402.39 L1172.18,399.24 L1174.65,395.79 L1177.12,392.00 L1179.59,387.85 L1182.06,383.29 L1184.53,378.29 L1187.00,372.80" fill="none" stroke="#C8342A" stroke-width="1.75" stroke-linejoin="round"/>
<circle cx="893.10" cy="420.90" r="5.00" fill="#E5321F"/>
<circle cx="922.49" cy="420.60" r="5.00" fill="#E5321F"/>
<circle cx="951.88" cy="443.80" r="5.00" fill="#E5321F"/>
<circle cx="981.27" cy="451.90" r="5.00" fill="#E5321F"/>
<circle cx="1010.66" cy="440.80" r="5.00" fill="#E5321F"/>
<circle cx="1040.05" cy="446.40" r="5.00" fill="#E5321F"/>
<circle cx="1069.44" cy="455.30" r="5.00" fill="#E5321F"/>
<circle cx="1098.83" cy="415.90" r="5.00" fill="#E5321F"/>
<circle cx="1128.22" cy="423.30" r="5.00" fill="#E5321F"/>
<circle cx="1157.61" cy="437.50" r="5.00" fill="#E5321F"/>
<circle cx="1187.00" cy="374.30" r="5.00" fill="#E5321F"/>
<text transform="translate(-1.10,612.90) scale(1,1.04)" font-size="29.0" font-weight="bold">c</text>
<text transform="translate(302.80,608.40) scale(1,1.04)" font-size="24.3" font-weight="bold">Binding</text>
<text transform="translate(57.40,938.40) rotate(-90) scale(1,1.04)" font-size="24.3" font-weight="bold">Absorbance 450 nm</text>
<text transform="translate(206.20,1076.80) scale(1,1.04)" font-size="24.3" font-weight="bold">Log concentration (pM)</text>
<line x1="107.00" y1="637.60" x2="107.00" y2="993.50" stroke="#000" stroke-width="3.6" stroke-linecap="butt"/>
<line x1="93.00" y1="991.70" x2="108.80" y2="991.70" stroke="#000" stroke-width="3.6" stroke-linecap="butt"/>
<text transform="translate(89.92,1000.65) scale(1,1.04)" font-size="24.8" font-weight="bold" text-anchor="end">0</text>
<line x1="93.00" y1="903.62" x2="108.80" y2="903.62" stroke="#000" stroke-width="3.6" stroke-linecap="butt"/>
<text transform="translate(89.92,912.58) scale(1,1.04)" font-size="24.8" font-weight="bold" text-anchor="end">1</text>
<line x1="93.00" y1="815.55" x2="108.80" y2="815.55" stroke="#000" stroke-width="3.6" stroke-linecap="butt"/>
<text transform="translate(89.92,824.50) scale(1,1.04)" font-size="24.8" font-weight="bold" text-anchor="end">2</text>
<line x1="93.00" y1="727.48" x2="108.80" y2="727.48" stroke="#000" stroke-width="3.6" stroke-linecap="butt"/>
<text transform="translate(89.92,736.43) scale(1,1.04)" font-size="24.8" font-weight="bold" text-anchor="end">3</text>
<line x1="93.00" y1="639.40" x2="108.80" y2="639.40" stroke="#000" stroke-width="3.6" stroke-linecap="butt"/>
<text transform="translate(89.92,648.35) scale(1,1.04)" font-size="24.8" font-weight="bold" text-anchor="end">4</text>
<line x1="105.20" y1="991.70" x2="600.00" y2="991.70" stroke="#000" stroke-width="3.6" stroke-linecap="butt"/>
<line x1="107.00" y1="989.90" x2="107.00" y2="1005.70" stroke="#000" stroke-width="3.6" stroke-linecap="butt"/>
<text transform="translate(107.00,1031.61) scale(1,1.04)" font-size="24.8" font-weight="bold" text-anchor="middle">-4</text>
<line x1="205.24" y1="989.90" x2="205.24" y2="1005.70" stroke="#000" stroke-width="3.6" stroke-linecap="butt"/>
<text transform="translate(205.24,1031.61) scale(1,1.04)" font-size="24.8" font-weight="bold" text-anchor="middle">-2</text>
<line x1="303.48" y1="989.90" x2="303.48" y2="1005.70" stroke="#000" stroke-width="3.6" stroke-linecap="butt"/>
<text transform="translate(303.48,1031.61) scale(1,1.04)" font-size="24.8" font-weight="bold" text-anchor="middle">0</text>
<line x1="401.72" y1="989.90" x2="401.72" y2="1005.70" stroke="#000" stroke-width="3.6" stroke-linecap="butt"/>
<text transform="translate(401.72,1031.61) scale(1,1.04)" font-size="24.8" font-weight="bold" text-anchor="middle">2</text>
<line x1="499.96" y1="989.90" x2="499.96" y2="1005.70" stroke="#000" stroke-width="3.6" stroke-linecap="butt"/>
<text transform="translate(499.96,1031.61) scale(1,1.04)" font-size="24.8" font-weight="bold" text-anchor="middle">4</text>
<line x1="598.20" y1="989.90" x2="598.20" y2="1005.70" stroke="#000" stroke-width="3.6" stroke-linecap="butt"/>
<text transform="translate(598.20,1031.61) scale(1,1.04)" font-size="24.8" font-weight="bold" text-anchor="middle">6</text>
<line x1="129.40" y1="676.70" x2="165.90" y2="676.70" stroke="#C8342A" stroke-width="1.6"/>
<circle cx="147.65" cy="676.70" r="4.90" fill="#E5321F"/>
<text transform="translate(183.90,686.00) scale(1,1.04)" font-size="24.3" font-weight="normal">BS-R2B2</text>
<line x1="129.40" y1="700.40" x2="165.90" y2="700.40" stroke="#37469C" stroke-width="1.6"/>
<rect x="142.90" y="695.65" width="9.51" height="9.51" fill="#3E53B6"/>
<text transform="translate(183.90,709.70) scale(1,1.04)" font-size="24.3" font-weight="normal">BS-R2B17</text>
<line x1="129.40" y1="725.90" x2="165.90" y2="725.90" stroke="#62AE29" stroke-width="1.6"/>
<polygon points="147.65,721.04 152.31,730.46 143.00,730.46" fill="#67BF1E"/>
<text transform="translate(183.90,735.20) scale(1,1.04)" font-size="24.3" font-weight="normal">BS-R2B12</text>
<line x1="129.40" y1="750.30" x2="165.90" y2="750.30" stroke="#E4932F" stroke-width="1.6"/>
<polygon points="147.65,755.16 152.31,745.74 143.00,745.74" fill="#F29219"/>
<text transform="translate(183.90,759.60) scale(1,1.04)" font-size="24.3" font-weight="normal">BS-R2B50</text>
<path d="M299.50,986.38 L301.47,986.37 L303.44,986.36 L305.41,986.36 L307.38,986.35 L309.35,986.34 L311.32,986.33 L313.29,986.32 L315.26,986.31 L317.24,986.30 L319.21,986.28 L321.18,986.27 L323.15,986.25 L325.12,986.24 L327.09,986.22 L329.06,986.20 L331.03,986.18 L333.00,986.16 L334.97,986.13 L336.94,986.10 L338.91,986.08 L340.88,986.04 L342.85,986.01 L344.82,985.97 L346.79,985.93 L348.76,985.89 L350.74,985.85 L352.71,985.80 L354.68,985.74 L356.65,985.68 L358.62,985.62 L360.59,985.55 L362.56,985.48 L364.53,985.40 L366.50,985.31 L368.47,985.21 L370.44,985.11 L372.41,985.00 L374.38,984.88 L376.35,984.76 L378.32,984.62 L380.29,984.47 L382.26,984.30 L384.24,984.13 L386.21,983.94 L388.18,983.73 L390.15,983.51 L392.12,983.27 L394.09,983.01 L396.06,982.73 L398.03,982.43 L400.00,982.10 L401.97,981.74 L403.94,981.36 L405.91,980.95 L407.88,980.51 L409.85,980.03 L411.82,979.51 L413.79,978.95 L415.76,978.35 L417.74,977.70 L419.71,977.00 L421.68,976.25 L423.65,975.44 L425.62,974.56 L427.59,973.63 L429.56,972.62 L431.53,971.53 L433.50,970.37 L435.47,969.12 L437.44,967.78 L439.41,966.35 L441.38,964.81 L443.35,963.16 L445.32,961.40 L447.29,959.53 L449.26,957.52 L451.24,955.39 L453.21,953.11 L455.18,950.69 L457.15,948.12 L459.12,945.40 L461.09,942.51 L463.06,939.46 L465.03,936.24 L467.00,932.85 L468.97,929.28 L470.94,925.53 L472.91,921.61 L474.88,917.50 L476.85,913.21 L478.82,908.75 L480.79,904.12 L482.76,899.32 L484.74,894.36 L486.71,889.25 L488.68,884.00 L490.65,878.62 L492.62,873.12 L494.59,867.51 L496.56,861.82 L498.53,856.05 L500.50,850.23 L502.47,844.37 L504.44,838.49 L506.41,832.60 L508.38,826.74 L510.35,820.90 L512.32,815.12 L514.29,809.41 L516.26,803.79 L518.24,798.27 L520.21,792.86 L522.18,787.58 L524.15,782.44 L526.12,777.45 L528.09,772.62 L530.06,767.96 L532.03,763.46 L534.00,759.14" fill="none" stroke="#E4932F" stroke-width="1.75" stroke-linejoin="round"/>
<polygon points="299.50,992.25 304.25,982.65 294.75,982.65" fill="#F29219"/>
<polygon points="322.95,990.75 327.70,981.15 318.20,981.15" fill="#F29219"/>
<polygon points="346.40,990.05 351.15,980.45 341.65,980.45" fill="#F29219"/>
<polygon points="369.85,989.35 374.60,979.75 365.10,979.75" fill="#F29219"/>
<polygon points="393.30,988.55 398.05,978.95 388.55,978.95" fill="#F29219"/>
<polygon points="416.75,983.45 421.50,973.85 412.00,973.85" fill="#F29219"/>
<polygon points="440.20,971.85 444.95,962.25 435.45,962.25" fill="#F29219"/>
<polygon points="463.65,941.95 468.40,932.35 458.90,932.35" fill="#F29219"/>
<polygon points="487.10,893.75 491.85,884.15 482.35,884.15" fill="#F29219"/>
<polygon points="510.55,825.25 515.30,815.65 505.80,815.65" fill="#F29219"/>
<polygon points="534.00,764.05 538.75,754.45 529.25,754.45" fill="#F29219"/>
<path d="M205.70,984.69 L208.46,984.69 L211.22,984.68 L213.98,984.68 L216.74,984.67 L219.49,984.66 L222.25,984.65 L225.01,984.65 L227.77,984.63 L230.53,984.62 L233.29,984.61 L236.05,984.59 L238.81,984.57 L241.56,984.55 L244.32,984.52 L247.08,984.50 L249.84,984.46 L252.60,984.42 L255.36,984.38 L258.12,984.33 L260.88,984.27 L263.64,984.20 L266.39,984.13 L269.15,984.04 L271.91,983.94 L274.67,983.82 L277.43,983.69 L280.19,983.54 L282.95,983.36 L285.71,983.16 L288.46,982.93 L291.22,982.67 L293.98,982.37 L296.74,982.02 L299.50,981.62 L302.26,981.17 L305.02,980.65 L307.78,980.06 L310.54,979.38 L313.29,978.61 L316.05,977.73 L318.81,976.73 L321.57,975.59 L324.33,974.30 L327.09,972.84 L329.85,971.19 L332.61,969.32 L335.36,967.22 L338.12,964.87 L340.88,962.24 L343.64,959.31 L346.40,956.05 L349.16,952.46 L351.92,948.50 L354.68,944.18 L357.44,939.48 L360.19,934.41 L362.95,928.96 L365.71,923.17 L368.47,917.05 L371.23,910.63 L373.99,903.98 L376.75,897.13 L379.51,890.14 L382.26,883.09 L385.02,876.04 L387.78,869.06 L390.54,862.20 L393.30,855.54 L396.06,849.13 L398.82,843.01 L401.58,837.21 L404.34,831.76 L407.09,826.68 L409.85,821.98 L412.61,817.66 L415.37,813.70 L418.13,810.10 L420.89,806.85 L423.65,803.91 L426.41,801.28 L429.16,798.92 L431.92,796.82 L434.68,794.96 L437.44,793.30 L440.20,791.84 L442.96,790.55 L445.72,789.41 L448.48,788.41 L451.24,787.52 L453.99,786.75 L456.75,786.08 L459.51,785.48 L462.27,784.96 L465.03,784.51 L467.79,784.11 L470.55,783.77 L473.31,783.46 L476.06,783.20 L478.82,782.97 L481.58,782.77 L484.34,782.59 L487.10,782.44 L489.86,782.31 L492.62,782.19 L495.38,782.09 L498.14,782.00 L500.89,781.92 L503.65,781.86 L506.41,781.80 L509.17,781.75 L511.93,781.71 L514.69,781.67 L517.45,781.63 L520.21,781.60 L522.96,781.58 L525.72,781.56 L528.48,781.54 L531.24,781.52 L534.00,781.51" fill="none" stroke="#62AE29" stroke-width="1.75" stroke-linejoin="round"/>
<polygon points="205.70,981.05 210.45,990.65 200.95,990.65" fill="#67BF1E"/>
<polygon points="229.15,981.05 233.90,990.65 224.40,990.65" fill="#67BF1E"/>
<polygon points="252.60,981.05 257.35,990.65 247.85,990.65" fill="#67BF1E"/>
<polygon points="276.05,981.05 280.80,990.65 271.30,990.65" fill="#67BF1E"/>
<polygon points="299.50,979.05 304.25,988.65 294.75,988.65" fill="#67BF1E"/>
<polygon points="322.95,963.05 327.70,972.65 318.20,972.65" fill="#67BF1E"/>
<polygon points="346.40,945.05 351.15,954.65 341.65,954.65" fill="#67BF1E"/>
<polygon points="369.85,912.35 374.60,921.95 365.10,921.95" fill="#67BF1E"/>
<polygon points="393.30,855.45 398.05,865.05 388.55,865.05" fill="#67BF1E"/>
<polygon points="416.75,803.65 421.50,813.25 412.00,813.25" fill="#67BF1E"/>
<polygon points="440.20,778.15 444.95,787.75 435.45,787.75" fill="#67BF1E"/>
<polygon points="463.65,775.95 468.40,785.55 458.90,785.55" fill="#67BF1E"/>
<polygon points="487.10,774.55 491.85,784.15 482.35,784.15" fill="#67BF1E"/>
<polygon points="510.55,784.75 515.30,794.35 505.80,794.35" fill="#67BF1E"/>
<polygon points="534.00,794.25 538.75,803.85 529.25,803.85" fill="#67BF1E"/>
<path d="M205.70,985.45 L208.46,985.44 L211.22,985.43 L213.98,985.42 L216.74,985.41 L219.49,985.40 L222.25,985.39 L225.01,985.37 L227.77,985.35 L230.53,985.33 L233.29,985.31 L236.05,985.28 L238.81,985.25 L241.56,985.21 L244.32,985.17 L247.08,985.12 L249.84,985.07 L252.60,985.01 L255.36,984.93 L258.12,984.85 L260.88,984.76 L263.64,984.65 L266.39,984.53 L269.15,984.38 L271.91,984.22 L274.67,984.04 L277.43,983.82 L280.19,983.58 L282.95,983.30 L285.71,982.98 L288.46,982.61 L291.22,982.20 L293.98,981.72 L296.74,981.17 L299.50,980.55 L302.26,979.84 L305.02,979.02 L307.78,978.10 L310.54,977.05 L313.29,975.85 L316.05,974.49 L318.81,972.95 L321.57,971.21 L324.33,969.24 L327.09,967.02 L329.85,964.52 L332.61,961.71 L335.36,958.57 L338.12,955.07 L340.88,951.18 L343.64,946.87 L346.40,942.13 L349.16,936.92 L351.92,931.25 L354.68,925.10 L357.44,918.48 L360.19,911.39 L362.95,903.87 L365.71,895.94 L368.47,887.66 L371.23,879.08 L373.99,870.26 L376.75,861.30 L379.51,852.26 L382.26,843.23 L385.02,834.30 L387.78,825.55 L390.54,817.05 L393.30,808.86 L396.06,801.04 L398.82,793.64 L401.58,786.69 L404.34,780.20 L407.09,774.19 L409.85,768.65 L412.61,763.59 L415.37,758.97 L418.13,754.79 L420.89,751.01 L423.65,747.61 L426.41,744.57 L429.16,741.86 L431.92,739.44 L434.68,737.29 L437.44,735.39 L440.20,733.71 L442.96,732.22 L445.72,730.91 L448.48,729.76 L451.24,728.75 L453.99,727.86 L456.75,727.07 L459.51,726.39 L462.27,725.79 L465.03,725.26 L467.79,724.80 L470.55,724.40 L473.31,724.05 L476.06,723.74 L478.82,723.47 L481.58,723.24 L484.34,723.03 L487.10,722.85 L489.86,722.70 L492.62,722.56 L495.38,722.44 L498.14,722.34 L500.89,722.25 L503.65,722.17 L506.41,722.10 L509.17,722.04 L511.93,721.99 L514.69,721.94 L517.45,721.90 L520.21,721.87 L522.96,721.84 L525.72,721.81 L528.48,721.79 L531.24,721.77 L534.00,721.75" fill="none" stroke="#37469C" stroke-width="1.75" stroke-linejoin="round"/>
<rect x="200.85" y="980.65" width="9.70" height="9.70" fill="#3E53B6"/>
<rect x="224.30" y="980.15" width="9.70" height="9.70" fill="#3E53B6"/>
<rect x="247.75" y="980.15" width="9.70" height="9.70" fill="#3E53B6"/>
<rect x="271.20" y="979.15" width="9.70" height="9.70" fill="#3E53B6"/>
<rect x="294.65" y="974.45" width="9.70" height="9.70" fill="#3E53B6"/>
<rect x="318.10" y="966.35" width="9.70" height="9.70" fill="#3E53B6"/>
<rect x="341.55" y="938.95" width="9.70" height="9.70" fill="#3E53B6"/>
<rect x="365.00" y="877.15" width="9.70" height="9.70" fill="#3E53B6"/>
<rect x="388.45" y="803.05" width="9.70" height="9.70" fill="#3E53B6"/>
<rect x="411.90" y="754.95" width="9.70" height="9.70" fill="#3E53B6"/>
<rect x="435.35" y="728.65" width="9.70" height="9.70" fill="#3E53B6"/>
<rect x="458.80" y="716.75" width="9.70" height="9.70" fill="#3E53B6"/>
<rect x="482.25" y="718.45" width="9.70" height="9.70" fill="#3E53B6"/>
<rect x="505.70" y="722.15" width="9.70" height="9.70" fill="#3E53B6"/>
<rect x="529.15" y="719.25" width="9.70" height="9.70" fill="#3E53B6"/>
<path d="M205.70,984.22 L208.46,984.22 L211.22,984.22 L213.98,984.22 L216.74,984.21 L219.49,984.21 L222.25,984.20 L225.01,984.20 L227.77,984.19 L230.53,984.19 L233.29,984.18 L236.05,984.17 L238.81,984.16 L241.56,984.14 L244.32,984.13 L247.08,984.11 L249.84,984.09 L252.60,984.06 L255.36,984.03 L258.12,984.00 L260.88,983.96 L263.64,983.91 L266.39,983.86 L269.15,983.80 L271.91,983.73 L274.67,983.64 L277.43,983.54 L280.19,983.43 L282.95,983.30 L285.71,983.14 L288.46,982.96 L291.22,982.75 L293.98,982.50 L296.74,982.22 L299.50,981.89 L302.26,981.51 L305.02,981.06 L307.78,980.54 L310.54,979.95 L313.29,979.26 L316.05,978.46 L318.81,977.54 L321.57,976.48 L324.33,975.27 L327.09,973.87 L329.85,972.28 L332.61,970.47 L335.36,968.42 L338.12,966.10 L340.88,963.49 L343.64,960.57 L346.40,957.32 L349.16,953.73 L351.92,949.79 L354.68,945.51 L357.44,940.89 L360.19,935.95 L362.95,930.72 L365.71,925.24 L368.47,919.57 L371.23,913.76 L373.99,907.87 L376.75,901.99 L379.51,896.17 L382.26,890.49 L385.02,884.99 L387.78,879.74 L390.54,874.78 L393.30,870.14 L396.06,865.83 L398.82,861.87 L401.58,858.25 L404.34,854.98 L407.09,852.04 L409.85,849.41 L412.61,847.07 L415.37,844.99 L418.13,843.17 L420.89,841.56 L423.65,840.16 L426.41,838.93 L429.16,837.86 L431.92,836.93 L434.68,836.12 L437.44,835.43 L440.20,834.82 L442.96,834.30 L445.72,833.85 L448.48,833.46 L451.24,833.13 L453.99,832.84 L456.75,832.60 L459.51,832.38 L462.27,832.20 L465.03,832.04 L467.79,831.91 L470.55,831.79 L473.31,831.69 L476.06,831.61 L478.82,831.53 L481.58,831.47 L484.34,831.42 L487.10,831.37 L489.86,831.33 L492.62,831.30 L495.38,831.27 L498.14,831.24 L500.89,831.22 L503.65,831.20 L506.41,831.19 L509.17,831.17 L511.93,831.16 L514.69,831.15 L517.45,831.14 L520.21,831.14 L522.96,831.13 L525.72,831.13 L528.48,831.12 L531.24,831.12 L534.00,831.11" fill="none" stroke="#C8342A" stroke-width="1.75" stroke-linejoin="round"/>
<circle cx="205.70" cy="986.50" r="5.00" fill="#E5321F"/>
<circle cx="229.15" cy="986.10" r="5.00" fill="#E5321F"/>
<circle cx="252.60" cy="985.80" r="5.00" fill="#E5321F"/>
<circle cx="276.05" cy="984.60" r="5.00" fill="#E5321F"/>
<circle cx="299.50" cy="982.20" r="5.00" fill="#E5321F"/>
<circle cx="322.95" cy="966.90" r="5.00" fill="#E5321F"/>
<circle cx="346.40" cy="957.40" r="5.00" fill="#E5321F"/>
<circle cx="369.85" cy="918.70" r="5.00" fill="#E5321F"/>
<circle cx="393.30" cy="872.80" r="5.00" fill="#E5321F"/>
<circle cx="416.75" cy="839.30" r="5.00" fill="#E5321F"/>
<circle cx="440.20" cy="829.00" r="5.00" fill="#E5321F"/>
<circle cx="463.65" cy="822.20" r="5.00" fill="#E5321F"/>
<circle cx="487.10" cy="833.00" r="5.00" fill="#E5321F"/>
<circle cx="510.55" cy="836.30" r="5.00" fill="#E5321F"/>
<circle cx="534.00" cy="849.50" r="5.00" fill="#E5321F"/>
<text transform="translate(652.70,612.60) scale(1,1.04)" font-size="29.0" font-weight="bold">d</text>
<text transform="translate(959.90,602.90) scale(1,1.04)" font-size="24.3" font-weight="bold">Inhibition</text>
<text transform="translate(693.90,929.75) rotate(-90) scale(1,1.04)" font-size="24.3" font-weight="bold">Inhibition (%)</text>
<text transform="translate(873.40,1076.80) scale(1,1.04)" font-size="24.3" font-weight="bold">Log concentration (pM)</text>
<line x1="775.00" y1="632.90" x2="775.00" y2="1062.02" stroke="#000" stroke-width="3.6" stroke-linecap="butt"/>
<line x1="761.00" y1="634.70" x2="776.80" y2="634.70" stroke="#000" stroke-width="3.6" stroke-linecap="butt"/>
<text transform="translate(755.02,643.65) scale(1,1.04)" font-size="24.8" font-weight="bold" text-anchor="end">100</text>
<line x1="761.00" y1="705.62" x2="776.80" y2="705.62" stroke="#000" stroke-width="3.6" stroke-linecap="butt"/>
<text transform="translate(756.42,714.57) scale(1,1.04)" font-size="24.8" font-weight="bold" text-anchor="end">80</text>
<line x1="761.00" y1="776.54" x2="776.80" y2="776.54" stroke="#000" stroke-width="3.6" stroke-linecap="butt"/>
<text transform="translate(756.42,785.49) scale(1,1.04)" font-size="24.8" font-weight="bold" text-anchor="end">60</text>
<line x1="761.00" y1="847.46" x2="776.80" y2="847.46" stroke="#000" stroke-width="3.6" stroke-linecap="butt"/>
<text transform="translate(756.42,856.41) scale(1,1.04)" font-size="24.8" font-weight="bold" text-anchor="end">40</text>
<line x1="761.00" y1="918.38" x2="776.80" y2="918.38" stroke="#000" stroke-width="3.6" stroke-linecap="butt"/>
<text transform="translate(756.42,927.33) scale(1,1.04)" font-size="24.8" font-weight="bold" text-anchor="end">20</text>
<line x1="761.00" y1="989.30" x2="776.80" y2="989.30" stroke="#000" stroke-width="3.6" stroke-linecap="butt"/>
<text transform="translate(757.82,998.25) scale(1,1.04)" font-size="24.8" font-weight="bold" text-anchor="end">0</text>
<line x1="761.00" y1="1060.22" x2="776.80" y2="1060.22" stroke="#000" stroke-width="3.6" stroke-linecap="butt"/>
<text transform="translate(757.82,1069.17) scale(1,1.04)" font-size="24.8" font-weight="bold" text-anchor="end">-20</text>
<line x1="773.20" y1="989.30" x2="1267.20" y2="989.30" stroke="#000" stroke-width="3.6" stroke-linecap="butt"/>
<line x1="898.50" y1="987.50" x2="898.50" y2="1003.30" stroke="#000" stroke-width="3.6" stroke-linecap="butt"/>
<text transform="translate(898.50,1030.11) scale(1,1.04)" font-size="24.8" font-weight="bold" text-anchor="middle">0</text>
<line x1="1020.80" y1="987.50" x2="1020.80" y2="1003.30" stroke="#000" stroke-width="3.6" stroke-linecap="butt"/>
<text transform="translate(1020.80,1030.11) scale(1,1.04)" font-size="24.8" font-weight="bold" text-anchor="middle">2</text>
<line x1="1143.10" y1="987.50" x2="1143.10" y2="1003.30" stroke="#000" stroke-width="3.6" stroke-linecap="butt"/>
<text transform="translate(1143.10,1030.11) scale(1,1.04)" font-size="24.8" font-weight="bold" text-anchor="middle">4</text>
<line x1="1265.40" y1="987.50" x2="1265.40" y2="1003.30" stroke="#000" stroke-width="3.6" stroke-linecap="butt"/>
<text transform="translate(1265.40,1030.11) scale(1,1.04)" font-size="24.8" font-weight="bold" text-anchor="middle">6</text>
<line x1="787.60" y1="647.50" x2="824.10" y2="647.50" stroke="#C8342A" stroke-width="1.6"/>
<circle cx="805.85" cy="647.50" r="4.90" fill="#E5321F"/>
<text transform="translate(841.40,656.80) scale(1,1.04)" font-size="24.3" font-weight="normal">BS-R2B2</text>
<line x1="787.60" y1="674.80" x2="824.10" y2="674.80" stroke="#37469C" stroke-width="1.6"/>
<rect x="801.10" y="670.05" width="9.51" height="9.51" fill="#3E53B6"/>
<text transform="translate(841.40,684.10) scale(1,1.04)" font-size="24.3" font-weight="normal">BS-R2B17</text>
<line x1="787.60" y1="701.50" x2="824.10" y2="701.50" stroke="#62AE29" stroke-width="1.6"/>
<polygon points="805.85,696.64 810.50,706.06 801.20,706.06" fill="#67BF1E"/>
<text transform="translate(841.40,710.80) scale(1,1.04)" font-size="24.3" font-weight="normal">BS-R2B12</text>
<line x1="787.60" y1="727.70" x2="824.10" y2="727.70" stroke="#E4932F" stroke-width="1.6"/>
<polygon points="805.85,732.56 810.50,723.14 801.20,723.14" fill="#F29219"/>
<text transform="translate(841.40,737.00) scale(1,1.04)" font-size="24.3" font-weight="normal">BS-R2B50</text>
<path d="M893.10,1011.46 L895.57,1011.48 L898.03,1011.52 L900.50,1011.55 L902.97,1011.60 L905.43,1011.65 L907.90,1011.71 L910.36,1011.78 L912.83,1011.86 L915.30,1011.96 L917.76,1012.07 L920.23,1012.20 L922.70,1012.36 L925.16,1012.53 L927.63,1012.73 L930.10,1012.97 L932.56,1013.24 L935.03,1013.54 L937.49,1013.90 L939.96,1014.29 L942.43,1014.74 L944.89,1015.25 L947.36,1015.81 L949.83,1016.44 L952.29,1017.13 L954.76,1017.88 L957.23,1018.69 L959.69,1019.56 L962.16,1020.47 L964.63,1021.43 L967.09,1022.42 L969.56,1023.43 L972.02,1024.45 L974.49,1025.46 L976.96,1026.45 L979.42,1027.41 L981.89,1028.33 L984.36,1029.20 L986.82,1030.02 L989.29,1030.77 L991.76,1031.47 L994.22,1032.10 L996.69,1032.67 L999.15,1033.18 L1001.62,1033.64 L1004.09,1034.04 L1006.55,1034.39 L1009.02,1034.71 L1011.49,1034.98 L1013.95,1035.21 L1016.42,1035.42 L1018.89,1035.60 L1021.35,1035.75 L1023.82,1035.88 L1026.28,1036.00 L1028.75,1036.10 L1031.22,1036.18 L1033.68,1036.25 L1036.15,1036.31 L1038.62,1036.37 L1041.08,1036.41 L1043.55,1036.45 L1046.02,1036.48 L1048.48,1036.51 L1050.95,1036.54 L1053.42,1036.56 L1055.88,1036.57 L1058.35,1036.59 L1060.81,1036.60 L1063.28,1036.61 L1065.75,1036.62 L1068.21,1036.63 L1070.68,1036.64 L1073.15,1036.64 L1075.61,1036.65 L1078.08,1036.65 L1080.55,1036.65 L1083.01,1036.66 L1085.48,1036.66 L1087.94,1036.66 L1090.41,1036.66 L1092.88,1036.67 L1095.34,1036.67 L1097.81,1036.67 L1100.28,1036.67 L1102.74,1036.67 L1105.21,1036.67 L1107.68,1036.67 L1110.14,1036.67 L1112.61,1036.67 L1115.07,1036.67 L1117.54,1036.67 L1120.01,1036.67 L1122.47,1036.67 L1124.94,1036.67 L1127.41,1036.67 L1129.87,1036.67 L1132.34,1036.67 L1134.81,1036.67 L1137.27,1036.67 L1139.74,1036.67 L1142.21,1036.67 L1144.67,1036.67 L1147.14,1036.67 L1149.60,1036.67 L1152.07,1036.68 L1154.54,1036.68 L1157.00,1036.68 L1159.47,1036.68 L1161.94,1036.68 L1164.40,1036.68 L1166.87,1036.68 L1169.34,1036.68 L1171.80,1036.68 L1174.27,1036.68 L1176.73,1036.68 L1179.20,1036.68 L1181.67,1036.68 L1184.13,1036.68 L1186.60,1036.68" fill="none" stroke="#E4932F" stroke-width="1.75" stroke-linejoin="round"/>
<polygon points="893.10,1018.25 897.85,1008.65 888.35,1008.65" fill="#F29219"/>
<polygon points="922.45,1014.55 927.20,1004.95 917.70,1004.95" fill="#F29219"/>
<polygon points="951.80,1019.15 956.55,1009.55 947.05,1009.55" fill="#F29219"/>
<polygon points="981.15,1037.65 985.90,1028.05 976.40,1028.05" fill="#F29219"/>
<polygon points="1010.50,1042.25 1015.25,1032.65 1005.75,1032.65" fill="#F29219"/>
<polygon points="1069.20,1058.55 1073.95,1048.95 1064.45,1048.95" fill="#F29219"/>
<polygon points="1098.55,1055.65 1103.30,1046.05 1093.80,1046.05" fill="#F29219"/>
<polygon points="1127.90,1045.05 1132.65,1035.45 1123.15,1035.45" fill="#F29219"/>
<polygon points="1157.25,1045.05 1162.00,1035.45 1152.50,1035.45" fill="#F29219"/>
<polygon points="1186.60,968.25 1191.35,958.65 1181.85,958.65" fill="#F29219"/>
<path d="M893.10,1015.57 L895.57,1015.57 L898.03,1015.56 L900.50,1015.56 L902.97,1015.56 L905.43,1015.56 L907.90,1015.55 L910.36,1015.55 L912.83,1015.54 L915.30,1015.54 L917.76,1015.53 L920.23,1015.53 L922.70,1015.52 L925.16,1015.52 L927.63,1015.51 L930.10,1015.50 L932.56,1015.49 L935.03,1015.48 L937.49,1015.47 L939.96,1015.46 L942.43,1015.44 L944.89,1015.43 L947.36,1015.41 L949.83,1015.39 L952.29,1015.37 L954.76,1015.35 L957.23,1015.33 L959.69,1015.30 L962.16,1015.27 L964.63,1015.24 L967.09,1015.20 L969.56,1015.17 L972.02,1015.12 L974.49,1015.08 L976.96,1015.02 L979.42,1014.97 L981.89,1014.90 L984.36,1014.84 L986.82,1014.76 L989.29,1014.68 L991.76,1014.58 L994.22,1014.48 L996.69,1014.37 L999.15,1014.25 L1001.62,1014.11 L1004.09,1013.97 L1006.55,1013.80 L1009.02,1013.63 L1011.49,1013.43 L1013.95,1013.21 L1016.42,1012.98 L1018.89,1012.72 L1021.35,1012.43 L1023.82,1012.12 L1026.28,1011.78 L1028.75,1011.40 L1031.22,1010.99 L1033.68,1010.54 L1036.15,1010.05 L1038.62,1009.51 L1041.08,1008.92 L1043.55,1008.27 L1046.02,1007.57 L1048.48,1006.80 L1050.95,1005.97 L1053.42,1005.06 L1055.88,1004.07 L1058.35,1003.00 L1060.81,1001.83 L1063.28,1000.57 L1065.75,999.21 L1068.21,997.74 L1070.68,996.15 L1073.15,994.44 L1075.61,992.61 L1078.08,990.65 L1080.55,988.55 L1083.01,986.32 L1085.48,983.94 L1087.94,981.42 L1090.41,978.76 L1092.88,975.95 L1095.34,973.01 L1097.81,969.93 L1100.28,966.72 L1102.74,963.39 L1105.21,959.94 L1107.68,956.39 L1110.14,952.75 L1112.61,949.03 L1115.07,945.25 L1117.54,941.43 L1120.01,937.58 L1122.47,933.72 L1124.94,929.87 L1127.41,926.04 L1129.87,922.26 L1132.34,918.53 L1134.81,914.88 L1137.27,911.32 L1139.74,907.86 L1142.21,904.52 L1144.67,901.29 L1147.14,898.20 L1149.60,895.24 L1152.07,892.42 L1154.54,889.74 L1157.00,887.20 L1159.47,884.81 L1161.94,882.56 L1164.40,880.45 L1166.87,878.47 L1169.34,876.62 L1171.80,874.90 L1174.27,873.30 L1176.73,871.82 L1179.20,870.44 L1181.67,869.17 L1184.13,867.99 L1186.60,866.91" fill="none" stroke="#62AE29" stroke-width="1.75" stroke-linejoin="round"/>
<polygon points="893.10,992.05 897.85,1001.65 888.35,1001.65" fill="#67BF1E"/>
<polygon points="922.45,990.15 927.20,999.75 917.70,999.75" fill="#67BF1E"/>
<polygon points="951.80,1007.45 956.55,1017.05 947.05,1017.05" fill="#67BF1E"/>
<polygon points="981.15,1002.75 985.90,1012.35 976.40,1012.35" fill="#67BF1E"/>
<polygon points="1010.50,1015.75 1015.25,1025.35 1005.75,1025.35" fill="#67BF1E"/>
<polygon points="1039.85,1049.95 1044.60,1059.55 1035.10,1059.55" fill="#67BF1E"/>
<polygon points="1069.20,1021.25 1073.95,1030.85 1064.45,1030.85" fill="#67BF1E"/>
<polygon points="1098.55,950.95 1103.30,960.55 1093.80,960.55" fill="#67BF1E"/>
<polygon points="1127.90,913.05 1132.65,922.65 1123.15,922.65" fill="#67BF1E"/>
<polygon points="1157.25,890.75 1162.00,900.35 1152.50,900.35" fill="#67BF1E"/>
<polygon points="1186.60,863.65 1191.35,873.25 1181.85,873.25" fill="#67BF1E"/>
<path d="M893.10,991.70 L895.57,991.68 L898.03,991.66 L900.50,991.63 L902.97,991.60 L905.43,991.57 L907.90,991.53 L910.36,991.49 L912.83,991.44 L915.30,991.39 L917.76,991.33 L920.23,991.26 L922.70,991.18 L925.16,991.10 L927.63,991.00 L930.10,990.88 L932.56,990.76 L935.03,990.61 L937.49,990.45 L939.96,990.26 L942.43,990.05 L944.89,989.82 L947.36,989.55 L949.83,989.25 L952.29,988.90 L954.76,988.52 L957.23,988.08 L959.69,987.58 L962.16,987.03 L964.63,986.40 L967.09,985.69 L969.56,984.89 L972.02,983.98 L974.49,982.97 L976.96,981.82 L979.42,980.53 L981.89,979.09 L984.36,977.46 L986.82,975.64 L989.29,973.61 L991.76,971.33 L994.22,968.79 L996.69,965.96 L999.15,962.82 L1001.62,959.33 L1004.09,955.47 L1006.55,951.22 L1009.02,946.54 L1011.49,941.42 L1013.95,935.82 L1016.42,929.73 L1018.89,923.15 L1021.35,916.05 L1023.82,908.45 L1026.28,900.34 L1028.75,891.76 L1031.22,882.72 L1033.68,873.27 L1036.15,863.45 L1038.62,853.32 L1041.08,842.96 L1043.55,832.43 L1046.02,821.81 L1048.48,811.19 L1050.95,800.65 L1053.42,790.26 L1055.88,780.11 L1058.35,770.26 L1060.81,760.77 L1063.28,751.69 L1065.75,743.06 L1068.21,734.91 L1070.68,727.26 L1073.15,720.11 L1075.61,713.48 L1078.08,707.35 L1080.55,701.70 L1083.01,696.53 L1085.48,691.81 L1087.94,687.52 L1090.41,683.62 L1092.88,680.10 L1095.34,676.93 L1097.81,674.07 L1100.28,671.50 L1102.74,669.20 L1105.21,667.14 L1107.68,665.30 L1110.14,663.66 L1112.61,662.20 L1115.07,660.90 L1117.54,659.74 L1120.01,658.71 L1122.47,657.80 L1124.94,656.99 L1127.41,656.27 L1129.87,655.63 L1132.34,655.07 L1134.81,654.57 L1137.27,654.12 L1139.74,653.73 L1142.21,653.39 L1144.67,653.08 L1147.14,652.81 L1149.60,652.57 L1152.07,652.36 L1154.54,652.17 L1157.00,652.01 L1159.47,651.86 L1161.94,651.73 L1164.40,651.62 L1166.87,651.52 L1169.34,651.43 L1171.80,651.35 L1174.27,651.28 L1176.73,651.22 L1179.20,651.16 L1181.67,651.12 L1184.13,651.07 L1186.60,651.04" fill="none" stroke="#37469C" stroke-width="1.75" stroke-linejoin="round"/>
<rect x="888.25" y="978.25" width="9.70" height="9.70" fill="#3E53B6"/>
<rect x="917.60" y="966.35" width="9.70" height="9.70" fill="#3E53B6"/>
<rect x="946.95" y="982.85" width="9.70" height="9.70" fill="#3E53B6"/>
<rect x="976.30" y="969.95" width="9.70" height="9.70" fill="#3E53B6"/>
<rect x="1005.65" y="948.95" width="9.70" height="9.70" fill="#3E53B6"/>
<rect x="1035.00" y="851.75" width="9.70" height="9.70" fill="#3E53B6"/>
<rect x="1064.35" y="699.45" width="9.70" height="9.70" fill="#3E53B6"/>
<rect x="1093.70" y="668.35" width="9.70" height="9.70" fill="#3E53B6"/>
<rect x="1123.05" y="662.85" width="9.70" height="9.70" fill="#3E53B6"/>
<rect x="1152.40" y="658.25" width="9.70" height="9.70" fill="#3E53B6"/>
<rect x="1181.75" y="654.55" width="9.70" height="9.70" fill="#3E53B6"/>
<path d="M893.10,972.38 L895.57,972.33 L898.03,972.28 L900.50,972.22 L902.97,972.15 L905.43,972.08 L907.90,971.99 L910.36,971.90 L912.83,971.79 L915.30,971.68 L917.76,971.55 L920.23,971.40 L922.70,971.24 L925.16,971.06 L927.63,970.85 L930.10,970.62 L932.56,970.37 L935.03,970.08 L937.49,969.76 L939.96,969.41 L942.43,969.01 L944.89,968.57 L947.36,968.07 L949.83,967.52 L952.29,966.91 L954.76,966.22 L957.23,965.46 L959.69,964.61 L962.16,963.66 L964.63,962.61 L967.09,961.43 L969.56,960.13 L972.02,958.69 L974.49,957.09 L976.96,955.32 L979.42,953.36 L981.89,951.19 L984.36,948.81 L986.82,946.18 L989.29,943.29 L991.76,940.12 L994.22,936.64 L996.69,932.85 L999.15,928.72 L1001.62,924.23 L1004.09,919.37 L1006.55,914.13 L1009.02,908.48 L1011.49,902.43 L1013.95,895.97 L1016.42,889.11 L1018.89,881.85 L1021.35,874.21 L1023.82,866.21 L1026.28,857.87 L1028.75,849.24 L1031.22,840.35 L1033.68,831.25 L1036.15,821.99 L1038.62,812.62 L1041.08,803.21 L1043.55,793.82 L1046.02,784.50 L1048.48,775.32 L1050.95,766.31 L1053.42,757.55 L1055.88,749.06 L1058.35,740.89 L1060.81,733.06 L1063.28,725.61 L1065.75,718.55 L1068.21,711.89 L1070.68,705.64 L1073.15,699.79 L1075.61,694.34 L1078.08,689.29 L1080.55,684.62 L1083.01,680.31 L1085.48,676.36 L1087.94,672.73 L1090.41,669.41 L1092.88,666.38 L1095.34,663.63 L1097.81,661.12 L1100.28,658.85 L1102.74,656.79 L1105.21,654.92 L1107.68,653.24 L1110.14,651.72 L1112.61,650.35 L1115.07,649.12 L1117.54,648.01 L1120.01,647.01 L1122.47,646.11 L1124.94,645.30 L1127.41,644.58 L1129.87,643.93 L1132.34,643.35 L1134.81,642.82 L1137.27,642.36 L1139.74,641.94 L1142.21,641.56 L1144.67,641.22 L1147.14,640.92 L1149.60,640.65 L1152.07,640.41 L1154.54,640.20 L1157.00,640.00 L1159.47,639.83 L1161.94,639.68 L1164.40,639.54 L1166.87,639.42 L1169.34,639.30 L1171.80,639.21 L1174.27,639.12 L1176.73,639.04 L1179.20,638.97 L1181.67,638.91 L1184.13,638.85 L1186.60,638.80" fill="none" stroke="#C8342A" stroke-width="1.75" stroke-linejoin="round"/>
<circle cx="893.10" cy="966.40" r="5.00" fill="#E5321F"/>
<circle cx="922.45" cy="963.60" r="5.00" fill="#E5321F"/>
<circle cx="951.80" cy="953.30" r="5.00" fill="#E5321F"/>
<circle cx="981.15" cy="957.40" r="5.00" fill="#E5321F"/>
<circle cx="1010.50" cy="907.00" r="5.00" fill="#E5321F"/>
<circle cx="1039.85" cy="815.90" r="5.00" fill="#E5321F"/>
<circle cx="1069.20" cy="686.90" r="5.00" fill="#E5321F"/>
<circle cx="1098.55" cy="659.40" r="5.00" fill="#E5321F"/>
<circle cx="1127.90" cy="651.20" r="5.00" fill="#E5321F"/>
<circle cx="1157.25" cy="648.40" r="5.00" fill="#E5321F"/>
<circle cx="1186.60" cy="647.50" r="5.00" fill="#E5321F"/>
<text transform="translate(2.50,1176.20) scale(1,1.04)" font-size="29.0" font-weight="bold">e</text>
<text transform="translate(307.60,1197.50) scale(1,1.04)" font-size="24.3" font-weight="bold">Binding</text>
<text transform="translate(63.00,1521.00) rotate(-90) scale(1,1.04)" font-size="24.3" font-weight="bold">Absorbance 450 nm</text>
<text transform="translate(209.80,1660.40) scale(1,1.04)" font-size="24.3" font-weight="bold">Log concentration (pM)</text>
<line x1="111.30" y1="1220.20" x2="111.30" y2="1575.90" stroke="#000" stroke-width="3.6" stroke-linecap="butt"/>
<line x1="97.30" y1="1574.10" x2="113.10" y2="1574.10" stroke="#000" stroke-width="3.6" stroke-linecap="butt"/>
<text transform="translate(94.62,1583.05) scale(1,1.04)" font-size="24.8" font-weight="bold" text-anchor="end">0</text>
<line x1="97.30" y1="1486.07" x2="113.10" y2="1486.07" stroke="#000" stroke-width="3.6" stroke-linecap="butt"/>
<text transform="translate(94.62,1495.03) scale(1,1.04)" font-size="24.8" font-weight="bold" text-anchor="end">1</text>
<line x1="97.30" y1="1398.05" x2="113.10" y2="1398.05" stroke="#000" stroke-width="3.6" stroke-linecap="butt"/>
<text transform="translate(94.62,1407.00) scale(1,1.04)" font-size="24.8" font-weight="bold" text-anchor="end">2</text>
<line x1="97.30" y1="1310.03" x2="113.10" y2="1310.03" stroke="#000" stroke-width="3.6" stroke-linecap="butt"/>
<text transform="translate(94.62,1318.98) scale(1,1.04)" font-size="24.8" font-weight="bold" text-anchor="end">3</text>
<line x1="97.30" y1="1222.00" x2="113.10" y2="1222.00" stroke="#000" stroke-width="3.6" stroke-linecap="butt"/>
<text transform="translate(94.62,1230.95) scale(1,1.04)" font-size="24.8" font-weight="bold" text-anchor="end">4</text>
<line x1="109.50" y1="1574.10" x2="604.10" y2="1574.10" stroke="#000" stroke-width="3.6" stroke-linecap="butt"/>
<line x1="111.30" y1="1572.30" x2="111.30" y2="1588.10" stroke="#000" stroke-width="3.6" stroke-linecap="butt"/>
<text transform="translate(111.30,1614.11) scale(1,1.04)" font-size="24.8" font-weight="bold" text-anchor="middle">-4</text>
<line x1="209.50" y1="1572.30" x2="209.50" y2="1588.10" stroke="#000" stroke-width="3.6" stroke-linecap="butt"/>
<text transform="translate(209.50,1614.11) scale(1,1.04)" font-size="24.8" font-weight="bold" text-anchor="middle">-2</text>
<line x1="307.70" y1="1572.30" x2="307.70" y2="1588.10" stroke="#000" stroke-width="3.6" stroke-linecap="butt"/>
<text transform="translate(307.70,1614.11) scale(1,1.04)" font-size="24.8" font-weight="bold" text-anchor="middle">0</text>
<line x1="405.90" y1="1572.30" x2="405.90" y2="1588.10" stroke="#000" stroke-width="3.6" stroke-linecap="butt"/>
<text transform="translate(405.90,1614.11) scale(1,1.04)" font-size="24.8" font-weight="bold" text-anchor="middle">2</text>
<line x1="504.10" y1="1572.30" x2="504.10" y2="1588.10" stroke="#000" stroke-width="3.6" stroke-linecap="butt"/>
<text transform="translate(504.10,1614.11) scale(1,1.04)" font-size="24.8" font-weight="bold" text-anchor="middle">4</text>
<line x1="602.30" y1="1572.30" x2="602.30" y2="1588.10" stroke="#000" stroke-width="3.6" stroke-linecap="butt"/>
<text transform="translate(602.30,1614.11) scale(1,1.04)" font-size="24.8" font-weight="bold" text-anchor="middle">6</text>
<line x1="138.50" y1="1263.20" x2="175.00" y2="1263.20" stroke="#C8342A" stroke-width="1.6"/>
<circle cx="156.75" cy="1263.20" r="4.90" fill="#E5321F"/>
<text transform="translate(194.20,1272.50) scale(1,1.04)" font-size="24.3" font-weight="normal">AR6978</text>
<line x1="138.50" y1="1292.40" x2="175.00" y2="1292.40" stroke="#37469C" stroke-width="1.6"/>
<rect x="152.00" y="1287.65" width="9.51" height="9.51" fill="#3E53B6"/>
<text transform="translate(194.20,1301.70) scale(1,1.04)" font-size="24.3" font-weight="normal">AR7001</text>
<line x1="138.50" y1="1320.80" x2="175.00" y2="1320.80" stroke="#62AE29" stroke-width="1.6"/>
<polygon points="156.75,1315.94 161.41,1325.36 152.09,1325.36" fill="#67BF1E"/>
<text transform="translate(194.20,1330.10) scale(1,1.04)" font-size="24.3" font-weight="normal">AR6988</text>
<path d="M240.00,1569.16 L242.76,1569.16 L245.52,1569.16 L248.28,1569.16 L251.04,1569.16 L253.79,1569.16 L256.55,1569.16 L259.31,1569.16 L262.07,1569.16 L264.83,1569.16 L267.59,1569.16 L270.35,1569.16 L273.11,1569.16 L275.86,1569.16 L278.62,1569.16 L281.38,1569.16 L284.14,1569.16 L286.90,1569.16 L289.66,1569.16 L292.42,1569.16 L295.18,1569.16 L297.94,1569.16 L300.69,1569.16 L303.45,1569.16 L306.21,1569.16 L308.97,1569.16 L311.73,1569.16 L314.49,1569.15 L317.25,1569.15 L320.01,1569.15 L322.76,1569.15 L325.52,1569.15 L328.28,1569.15 L331.04,1569.14 L333.80,1569.14 L336.56,1569.14 L339.32,1569.13 L342.08,1569.13 L344.84,1569.12 L347.59,1569.12 L350.35,1569.11 L353.11,1569.11 L355.87,1569.10 L358.63,1569.09 L361.39,1569.08 L364.15,1569.07 L366.91,1569.05 L369.66,1569.04 L372.42,1569.02 L375.18,1569.00 L377.94,1568.98 L380.70,1568.96 L383.46,1568.93 L386.22,1568.90 L388.98,1568.87 L391.74,1568.83 L394.49,1568.79 L397.25,1568.74 L400.01,1568.68 L402.77,1568.62 L405.53,1568.55 L408.29,1568.47 L411.05,1568.37 L413.81,1568.27 L416.56,1568.15 L419.32,1568.02 L422.08,1567.88 L424.84,1567.71 L427.60,1567.52 L430.36,1567.31 L433.12,1567.07 L435.88,1566.80 L438.64,1566.50 L441.39,1566.16 L444.15,1565.77 L446.91,1565.34 L449.67,1564.86 L452.43,1564.32 L455.19,1563.72 L457.95,1563.04 L460.71,1562.28 L463.46,1561.44 L466.22,1560.51 L468.98,1559.47 L471.74,1558.31 L474.50,1557.04 L477.26,1555.64 L480.02,1554.09 L482.78,1552.40 L485.54,1550.56 L488.29,1548.56 L491.05,1546.39 L493.81,1544.05 L496.57,1541.54 L499.33,1538.87 L502.09,1536.03 L504.85,1533.04 L507.61,1529.91 L510.36,1526.65 L513.12,1523.29 L515.88,1519.83 L518.64,1516.32 L521.40,1512.76 L524.16,1509.20 L526.92,1505.65 L529.68,1502.14 L532.44,1498.70 L535.19,1495.34 L537.95,1492.10 L540.71,1488.99 L543.47,1486.03 L546.23,1483.21 L548.99,1480.56 L551.75,1478.08 L554.51,1475.77 L557.26,1473.62 L560.02,1471.64 L562.78,1469.82 L565.54,1468.15 L568.30,1466.63" fill="none" stroke="#62AE29" stroke-width="1.75" stroke-linejoin="round"/>
<polygon points="240.00,1564.05 244.75,1573.65 235.25,1573.65" fill="#67BF1E"/>
<polygon points="263.45,1564.05 268.20,1573.65 258.70,1573.65" fill="#67BF1E"/>
<polygon points="286.90,1564.05 291.65,1573.65 282.15,1573.65" fill="#67BF1E"/>
<polygon points="310.35,1564.05 315.10,1573.65 305.60,1573.65" fill="#67BF1E"/>
<polygon points="333.80,1564.05 338.55,1573.65 329.05,1573.65" fill="#67BF1E"/>
<polygon points="357.25,1564.05 362.00,1573.65 352.50,1573.65" fill="#67BF1E"/>
<polygon points="380.70,1564.05 385.45,1573.65 375.95,1573.65" fill="#67BF1E"/>
<polygon points="404.15,1564.05 408.90,1573.65 399.40,1573.65" fill="#67BF1E"/>
<polygon points="427.60,1564.05 432.35,1573.65 422.85,1573.65" fill="#67BF1E"/>
<polygon points="451.05,1559.05 455.80,1568.65 446.30,1568.65" fill="#67BF1E"/>
<polygon points="474.50,1550.95 479.25,1560.55 469.75,1560.55" fill="#67BF1E"/>
<polygon points="497.95,1536.15 502.70,1545.75 493.20,1545.75" fill="#67BF1E"/>
<polygon points="521.40,1507.75 526.15,1517.35 516.65,1517.35" fill="#67BF1E"/>
<polygon points="544.85,1479.35 549.60,1488.95 540.10,1488.95" fill="#67BF1E"/>
<polygon points="568.30,1461.85 573.05,1471.45 563.55,1471.45" fill="#67BF1E"/>
<path d="M240.00,1567.87 L242.76,1567.87 L245.52,1567.86 L248.28,1567.86 L251.04,1567.85 L253.79,1567.84 L256.55,1567.83 L259.31,1567.82 L262.07,1567.81 L264.83,1567.80 L267.59,1567.79 L270.35,1567.77 L273.11,1567.76 L275.86,1567.74 L278.62,1567.72 L281.38,1567.70 L284.14,1567.67 L286.90,1567.64 L289.66,1567.61 L292.42,1567.58 L295.18,1567.54 L297.94,1567.50 L300.69,1567.45 L303.45,1567.40 L306.21,1567.34 L308.97,1567.28 L311.73,1567.21 L314.49,1567.13 L317.25,1567.04 L320.01,1566.95 L322.76,1566.84 L325.52,1566.72 L328.28,1566.58 L331.04,1566.44 L333.80,1566.27 L336.56,1566.09 L339.32,1565.89 L342.08,1565.67 L344.84,1565.42 L347.59,1565.14 L350.35,1564.84 L353.11,1564.50 L355.87,1564.12 L358.63,1563.71 L361.39,1563.25 L364.15,1562.74 L366.91,1562.17 L369.66,1561.55 L372.42,1560.86 L375.18,1560.10 L377.94,1559.26 L380.70,1558.34 L383.46,1557.32 L386.22,1556.19 L388.98,1554.96 L391.74,1553.60 L394.49,1552.11 L397.25,1550.48 L400.01,1548.69 L402.77,1546.74 L405.53,1544.61 L408.29,1542.29 L411.05,1539.77 L413.81,1537.05 L416.56,1534.09 L419.32,1530.91 L422.08,1527.49 L424.84,1523.81 L427.60,1519.89 L430.36,1515.71 L433.12,1511.28 L435.88,1506.59 L438.64,1501.66 L441.39,1496.49 L444.15,1491.09 L446.91,1485.49 L449.67,1479.71 L452.43,1473.76 L455.19,1467.69 L457.95,1461.51 L460.71,1455.25 L463.46,1448.97 L466.22,1442.68 L468.98,1436.43 L471.74,1430.24 L474.50,1424.16 L477.26,1418.20 L480.02,1412.41 L482.78,1406.80 L485.54,1401.39 L488.29,1396.21 L491.05,1391.26 L493.81,1386.56 L496.57,1382.11 L499.33,1377.92 L502.09,1373.98 L504.85,1370.29 L507.61,1366.85 L510.36,1363.66 L513.12,1360.69 L515.88,1357.95 L518.64,1355.42 L521.40,1353.09 L524.16,1350.95 L526.92,1348.99 L529.68,1347.19 L532.44,1345.55 L535.19,1344.06 L537.95,1342.69 L540.71,1341.45 L543.47,1340.32 L546.23,1339.29 L548.99,1338.36 L551.75,1337.52 L554.51,1336.75 L557.26,1336.06 L560.02,1335.43 L562.78,1334.87 L565.54,1334.36 L568.30,1333.89" fill="none" stroke="#37469C" stroke-width="1.75" stroke-linejoin="round"/>
<rect x="235.15" y="1562.45" width="9.70" height="9.70" fill="#3E53B6"/>
<rect x="258.60" y="1562.45" width="9.70" height="9.70" fill="#3E53B6"/>
<rect x="282.05" y="1562.45" width="9.70" height="9.70" fill="#3E53B6"/>
<rect x="305.50" y="1560.75" width="9.70" height="9.70" fill="#3E53B6"/>
<rect x="328.95" y="1561.15" width="9.70" height="9.70" fill="#3E53B6"/>
<rect x="352.40" y="1559.65" width="9.70" height="9.70" fill="#3E53B6"/>
<rect x="375.85" y="1557.75" width="9.70" height="9.70" fill="#3E53B6"/>
<rect x="399.30" y="1542.95" width="9.70" height="9.70" fill="#3E53B6"/>
<rect x="422.75" y="1511.95" width="9.70" height="9.70" fill="#3E53B6"/>
<rect x="446.20" y="1465.95" width="9.70" height="9.70" fill="#3E53B6"/>
<rect x="469.65" y="1428.15" width="9.70" height="9.70" fill="#3E53B6"/>
<rect x="493.10" y="1375.45" width="9.70" height="9.70" fill="#3E53B6"/>
<rect x="516.55" y="1344.05" width="9.70" height="9.70" fill="#3E53B6"/>
<rect x="540.00" y="1324.35" width="9.70" height="9.70" fill="#3E53B6"/>
<rect x="563.45" y="1325.45" width="9.70" height="9.70" fill="#3E53B6"/>
<path d="M240.00,1569.56 L242.76,1569.56 L245.52,1569.56 L248.28,1569.55 L251.04,1569.55 L253.79,1569.55 L256.55,1569.55 L259.31,1569.55 L262.07,1569.55 L264.83,1569.55 L267.59,1569.55 L270.35,1569.55 L273.11,1569.55 L275.86,1569.55 L278.62,1569.55 L281.38,1569.55 L284.14,1569.55 L286.90,1569.54 L289.66,1569.54 L292.42,1569.54 L295.18,1569.54 L297.94,1569.54 L300.69,1569.54 L303.45,1569.54 L306.21,1569.53 L308.97,1569.53 L311.73,1569.53 L314.49,1569.53 L317.25,1569.52 L320.01,1569.52 L322.76,1569.52 L325.52,1569.51 L328.28,1569.51 L331.04,1569.50 L333.80,1569.50 L336.56,1569.49 L339.32,1569.49 L342.08,1569.48 L344.84,1569.47 L347.59,1569.47 L350.35,1569.46 L353.11,1569.45 L355.87,1569.44 L358.63,1569.43 L361.39,1569.42 L364.15,1569.41 L366.91,1569.39 L369.66,1569.38 L372.42,1569.36 L375.18,1569.35 L377.94,1569.33 L380.70,1569.31 L383.46,1569.29 L386.22,1569.26 L388.98,1569.24 L391.74,1569.21 L394.49,1569.18 L397.25,1569.15 L400.01,1569.11 L402.77,1569.07 L405.53,1569.03 L408.29,1568.99 L411.05,1568.94 L413.81,1568.89 L416.56,1568.83 L419.32,1568.77 L422.08,1568.70 L424.84,1568.62 L427.60,1568.54 L430.36,1568.46 L433.12,1568.36 L435.88,1568.26 L438.64,1568.15 L441.39,1568.04 L444.15,1567.91 L446.91,1567.77 L449.67,1567.62 L452.43,1567.46 L455.19,1567.29 L457.95,1567.11 L460.71,1566.91 L463.46,1566.69 L466.22,1566.46 L468.98,1566.21 L471.74,1565.95 L474.50,1565.66 L477.26,1565.36 L480.02,1565.04 L482.78,1564.69 L485.54,1564.32 L488.29,1563.93 L491.05,1563.52 L493.81,1563.08 L496.57,1562.61 L499.33,1562.12 L502.09,1561.60 L504.85,1561.06 L507.61,1560.49 L510.36,1559.89 L513.12,1559.27 L515.88,1558.63 L518.64,1557.96 L521.40,1557.26 L524.16,1556.55 L526.92,1555.81 L529.68,1555.06 L532.44,1554.29 L535.19,1553.50 L537.95,1552.70 L540.71,1551.90 L543.47,1551.09 L546.23,1550.27 L548.99,1549.46 L551.75,1548.64 L554.51,1547.83 L557.26,1547.03 L560.02,1546.24 L562.78,1545.46 L565.54,1544.70 L568.30,1543.95" fill="none" stroke="#C8342A" stroke-width="1.75" stroke-linejoin="round"/>
<circle cx="240.00" cy="1569.50" r="5.00" fill="#E5321F"/>
<circle cx="263.45" cy="1569.50" r="5.00" fill="#E5321F"/>
<circle cx="286.90" cy="1569.50" r="5.00" fill="#E5321F"/>
<circle cx="310.35" cy="1569.50" r="5.00" fill="#E5321F"/>
<circle cx="333.80" cy="1569.50" r="5.00" fill="#E5321F"/>
<circle cx="357.25" cy="1569.50" r="5.00" fill="#E5321F"/>
<circle cx="380.70" cy="1569.50" r="5.00" fill="#E5321F"/>
<circle cx="404.15" cy="1568.80" r="5.00" fill="#E5321F"/>
<circle cx="427.60" cy="1568.40" r="5.00" fill="#E5321F"/>
<circle cx="451.05" cy="1568.10" r="5.00" fill="#E5321F"/>
<circle cx="474.50" cy="1565.40" r="5.00" fill="#E5321F"/>
<circle cx="497.95" cy="1562.70" r="5.00" fill="#E5321F"/>
<circle cx="521.40" cy="1556.60" r="5.00" fill="#E5321F"/>
<circle cx="544.85" cy="1551.20" r="5.00" fill="#E5321F"/>
<circle cx="568.30" cy="1543.80" r="5.00" fill="#E5321F"/>
<text transform="translate(652.30,1176.50) scale(1,1.04)" font-size="29.0" font-weight="bold">f</text>
<text transform="translate(962.10,1185.80) scale(1,1.04)" font-size="24.3" font-weight="bold">Inhibition</text>
<text transform="translate(695.70,1507.85) rotate(-90) scale(1,1.04)" font-size="24.3" font-weight="bold">Inhibition (%)</text>
<text transform="translate(874.60,1655.00) scale(1,1.04)" font-size="24.3" font-weight="bold">Log concentration (pM)</text>
<line x1="776.20" y1="1212.20" x2="776.20" y2="1640.96" stroke="#000" stroke-width="3.6" stroke-linecap="butt"/>
<line x1="762.20" y1="1214.00" x2="778.00" y2="1214.00" stroke="#000" stroke-width="3.6" stroke-linecap="butt"/>
<text transform="translate(756.42,1222.95) scale(1,1.04)" font-size="24.8" font-weight="bold" text-anchor="end">100</text>
<line x1="762.20" y1="1284.86" x2="778.00" y2="1284.86" stroke="#000" stroke-width="3.6" stroke-linecap="butt"/>
<text transform="translate(757.82,1293.81) scale(1,1.04)" font-size="24.8" font-weight="bold" text-anchor="end">80</text>
<line x1="762.20" y1="1355.72" x2="778.00" y2="1355.72" stroke="#000" stroke-width="3.6" stroke-linecap="butt"/>
<text transform="translate(757.82,1364.67) scale(1,1.04)" font-size="24.8" font-weight="bold" text-anchor="end">60</text>
<line x1="762.20" y1="1426.58" x2="778.00" y2="1426.58" stroke="#000" stroke-width="3.6" stroke-linecap="butt"/>
<text transform="translate(757.82,1435.53) scale(1,1.04)" font-size="24.8" font-weight="bold" text-anchor="end">40</text>
<line x1="762.20" y1="1497.44" x2="778.00" y2="1497.44" stroke="#000" stroke-width="3.6" stroke-linecap="butt"/>
<text transform="translate(757.82,1506.39) scale(1,1.04)" font-size="24.8" font-weight="bold" text-anchor="end">20</text>
<line x1="762.20" y1="1568.30" x2="778.00" y2="1568.30" stroke="#000" stroke-width="3.6" stroke-linecap="butt"/>
<text transform="translate(759.22,1577.25) scale(1,1.04)" font-size="24.8" font-weight="bold" text-anchor="end">0</text>
<line x1="762.20" y1="1639.16" x2="778.00" y2="1639.16" stroke="#000" stroke-width="3.6" stroke-linecap="butt"/>
<text transform="translate(759.22,1648.11) scale(1,1.04)" font-size="24.8" font-weight="bold" text-anchor="end">-20</text>
<line x1="774.40" y1="1568.30" x2="1269.90" y2="1568.30" stroke="#000" stroke-width="3.6" stroke-linecap="butt"/>
<line x1="899.10" y1="1566.50" x2="899.10" y2="1582.30" stroke="#000" stroke-width="3.6" stroke-linecap="butt"/>
<text transform="translate(899.10,1609.21) scale(1,1.04)" font-size="24.8" font-weight="bold" text-anchor="middle">0</text>
<line x1="1022.10" y1="1566.50" x2="1022.10" y2="1582.30" stroke="#000" stroke-width="3.6" stroke-linecap="butt"/>
<text transform="translate(1022.10,1609.21) scale(1,1.04)" font-size="24.8" font-weight="bold" text-anchor="middle">2</text>
<line x1="1145.10" y1="1566.50" x2="1145.10" y2="1582.30" stroke="#000" stroke-width="3.6" stroke-linecap="butt"/>
<text transform="translate(1145.10,1609.21) scale(1,1.04)" font-size="24.8" font-weight="bold" text-anchor="middle">4</text>
<line x1="1268.10" y1="1566.50" x2="1268.10" y2="1582.30" stroke="#000" stroke-width="3.6" stroke-linecap="butt"/>
<text transform="translate(1268.10,1609.21) scale(1,1.04)" font-size="24.8" font-weight="bold" text-anchor="middle">6</text>
<line x1="785.80" y1="1240.30" x2="822.30" y2="1240.30" stroke="#C8342A" stroke-width="1.6"/>
<circle cx="804.05" cy="1240.30" r="4.90" fill="#E5321F"/>
<text transform="translate(841.50,1249.60) scale(1,1.04)" font-size="24.3" font-weight="normal">AR6978</text>
<line x1="785.80" y1="1268.30" x2="822.30" y2="1268.30" stroke="#37469C" stroke-width="1.6"/>
<rect x="799.30" y="1263.55" width="9.51" height="9.51" fill="#3E53B6"/>
<text transform="translate(841.50,1277.60) scale(1,1.04)" font-size="24.3" font-weight="normal">AR7001</text>
<line x1="785.80" y1="1296.80" x2="822.30" y2="1296.80" stroke="#62AE29" stroke-width="1.6"/>
<polygon points="804.05,1291.94 808.70,1301.36 799.39,1301.36" fill="#67BF1E"/>
<text transform="translate(841.50,1306.10) scale(1,1.04)" font-size="24.3" font-weight="normal">AR6988</text>
<path d="M894.10,1537.53 L896.57,1538.30 L899.04,1539.12 L901.51,1540.00 L903.98,1540.94 L906.45,1541.95 L908.92,1543.01 L911.39,1544.14 L913.86,1545.34 L916.33,1546.60 L918.80,1547.92 L921.27,1549.31 L923.74,1550.76 L926.21,1552.27 L928.68,1553.83 L931.15,1555.44 L933.62,1557.10 L936.09,1558.80 L938.56,1560.54 L941.03,1562.30 L943.49,1564.08 L945.96,1565.88 L948.43,1567.68 L950.90,1569.48 L953.37,1571.26 L955.84,1573.03 L958.31,1574.77 L960.78,1576.48 L963.25,1578.15 L965.72,1579.77 L968.19,1581.34 L970.66,1582.86 L973.13,1584.32 L975.60,1585.72 L978.07,1587.06 L980.54,1588.33 L983.01,1589.54 L985.48,1590.69 L987.95,1591.76 L990.42,1592.78 L992.89,1593.73 L995.36,1594.62 L997.83,1595.46 L1000.30,1596.24 L1002.77,1596.96 L1005.24,1597.63 L1007.71,1598.26 L1010.18,1598.83 L1012.65,1599.37 L1015.12,1599.86 L1017.59,1600.32 L1020.06,1600.74 L1022.53,1601.12 L1025.00,1601.48 L1027.47,1601.81 L1029.94,1602.11 L1032.41,1602.38 L1034.88,1602.63 L1037.35,1602.87 L1039.82,1603.08 L1042.28,1603.27 L1044.75,1603.45 L1047.22,1603.61 L1049.69,1603.76 L1052.16,1603.89 L1054.63,1604.02 L1057.10,1604.13 L1059.57,1604.23 L1062.04,1604.33 L1064.51,1604.41 L1066.98,1604.49 L1069.45,1604.56 L1071.92,1604.63 L1074.39,1604.69 L1076.86,1604.74 L1079.33,1604.79 L1081.80,1604.84 L1084.27,1604.88 L1086.74,1604.92 L1089.21,1604.95 L1091.68,1604.98 L1094.15,1605.01 L1096.62,1605.03 L1099.09,1605.06 L1101.56,1605.08 L1104.03,1605.10 L1106.50,1605.12 L1108.97,1605.13 L1111.44,1605.15 L1113.91,1605.16 L1116.38,1605.17 L1118.85,1605.18 L1121.32,1605.19 L1123.79,1605.20 L1126.26,1605.21 L1128.73,1605.22 L1131.20,1605.23 L1133.67,1605.23 L1136.14,1605.24 L1138.61,1605.24 L1141.07,1605.25 L1143.54,1605.25 L1146.01,1605.26 L1148.48,1605.26 L1150.95,1605.26 L1153.42,1605.27 L1155.89,1605.27 L1158.36,1605.27 L1160.83,1605.27 L1163.30,1605.28 L1165.77,1605.28 L1168.24,1605.28 L1170.71,1605.28 L1173.18,1605.28 L1175.65,1605.28 L1178.12,1605.29 L1180.59,1605.29 L1183.06,1605.29 L1185.53,1605.29 L1188.00,1605.29" fill="none" stroke="#62AE29" stroke-width="1.75" stroke-linejoin="round"/>
<polygon points="894.10,1540.15 898.85,1549.75 889.35,1549.75" fill="#67BF1E"/>
<polygon points="923.49,1534.45 928.24,1544.05 918.74,1544.05" fill="#67BF1E"/>
<polygon points="952.88,1563.55 957.63,1573.15 948.13,1573.15" fill="#67BF1E"/>
<polygon points="982.27,1589.75 987.02,1599.35 977.52,1599.35" fill="#67BF1E"/>
<polygon points="1011.66,1603.65 1016.41,1613.25 1006.91,1613.25" fill="#67BF1E"/>
<polygon points="1041.05,1611.95 1045.80,1621.55 1036.30,1621.55" fill="#67BF1E"/>
<polygon points="1070.44,1624.95 1075.19,1634.55 1065.69,1634.55" fill="#67BF1E"/>
<polygon points="1099.83,1622.15 1104.58,1631.75 1095.08,1631.75" fill="#67BF1E"/>
<polygon points="1129.22,1593.45 1133.97,1603.05 1124.47,1603.05" fill="#67BF1E"/>
<polygon points="1158.61,1586.95 1163.36,1596.55 1153.86,1596.55" fill="#67BF1E"/>
<polygon points="1188.00,1556.45 1192.75,1566.05 1183.25,1566.05" fill="#67BF1E"/>
<path d="M894.10,1574.15 L896.57,1574.15 L899.04,1574.14 L901.51,1574.14 L903.98,1574.13 L906.45,1574.13 L908.92,1574.12 L911.39,1574.11 L913.86,1574.11 L916.33,1574.10 L918.80,1574.09 L921.27,1574.08 L923.74,1574.07 L926.21,1574.06 L928.68,1574.05 L931.15,1574.03 L933.62,1574.02 L936.09,1574.00 L938.56,1573.98 L941.03,1573.96 L943.49,1573.94 L945.96,1573.92 L948.43,1573.89 L950.90,1573.86 L953.37,1573.83 L955.84,1573.80 L958.31,1573.77 L960.78,1573.73 L963.25,1573.68 L965.72,1573.64 L968.19,1573.59 L970.66,1573.53 L973.13,1573.47 L975.60,1573.40 L978.07,1573.33 L980.54,1573.25 L983.01,1573.17 L985.48,1573.07 L987.95,1572.97 L990.42,1572.86 L992.89,1572.74 L995.36,1572.61 L997.83,1572.46 L1000.30,1572.31 L1002.77,1572.14 L1005.24,1571.95 L1007.71,1571.75 L1010.18,1571.53 L1012.65,1571.29 L1015.12,1571.03 L1017.59,1570.74 L1020.06,1570.43 L1022.53,1570.10 L1025.00,1569.73 L1027.47,1569.34 L1029.94,1568.90 L1032.41,1568.44 L1034.88,1567.93 L1037.35,1567.38 L1039.82,1566.78 L1042.28,1566.13 L1044.75,1565.43 L1047.22,1564.67 L1049.69,1563.84 L1052.16,1562.95 L1054.63,1561.99 L1057.10,1560.96 L1059.57,1559.84 L1062.04,1558.64 L1064.51,1557.34 L1066.98,1555.95 L1069.45,1554.46 L1071.92,1552.86 L1074.39,1551.15 L1076.86,1549.32 L1079.33,1547.37 L1081.80,1545.30 L1084.27,1543.09 L1086.74,1540.75 L1089.21,1538.28 L1091.68,1535.66 L1094.15,1532.91 L1096.62,1530.02 L1099.09,1526.99 L1101.56,1523.82 L1104.03,1520.52 L1106.50,1517.09 L1108.97,1513.54 L1111.44,1509.87 L1113.91,1506.10 L1116.38,1502.24 L1118.85,1498.29 L1121.32,1494.28 L1123.79,1490.20 L1126.26,1486.08 L1128.73,1481.94 L1131.20,1477.79 L1133.67,1473.64 L1136.14,1469.51 L1138.61,1465.42 L1141.07,1461.37 L1143.54,1457.40 L1146.01,1453.50 L1148.48,1449.69 L1150.95,1445.98 L1153.42,1442.38 L1155.89,1438.91 L1158.36,1435.55 L1160.83,1432.33 L1163.30,1429.25 L1165.77,1426.30 L1168.24,1423.49 L1170.71,1420.82 L1173.18,1418.29 L1175.65,1415.89 L1178.12,1413.63 L1180.59,1411.51 L1183.06,1409.51 L1185.53,1407.63 L1188.00,1405.87" fill="none" stroke="#37469C" stroke-width="1.75" stroke-linejoin="round"/>
<rect x="889.25" y="1572.25" width="9.70" height="9.70" fill="#3E53B6"/>
<rect x="918.64" y="1552.85" width="9.70" height="9.70" fill="#3E53B6"/>
<rect x="948.03" y="1564.35" width="9.70" height="9.70" fill="#3E53B6"/>
<rect x="977.42" y="1573.15" width="9.70" height="9.70" fill="#3E53B6"/>
<rect x="1006.81" y="1577.25" width="9.70" height="9.70" fill="#3E53B6"/>
<rect x="1036.20" y="1570.95" width="9.70" height="9.70" fill="#3E53B6"/>
<rect x="1065.59" y="1549.45" width="9.70" height="9.70" fill="#3E53B6"/>
<rect x="1094.98" y="1508.45" width="9.70" height="9.70" fill="#3E53B6"/>
<rect x="1124.37" y="1478.75" width="9.70" height="9.70" fill="#3E53B6"/>
<rect x="1153.76" y="1440.85" width="9.70" height="9.70" fill="#3E53B6"/>
<rect x="1183.15" y="1393.65" width="9.70" height="9.70" fill="#3E53B6"/>
<path d="M894.10,1577.89 L896.57,1577.89 L899.04,1577.89 L901.51,1577.89 L903.98,1577.89 L906.45,1577.89 L908.92,1577.88 L911.39,1577.88 L913.86,1577.88 L916.33,1577.88 L918.80,1577.87 L921.27,1577.87 L923.74,1577.87 L926.21,1577.86 L928.68,1577.86 L931.15,1577.85 L933.62,1577.85 L936.09,1577.84 L938.56,1577.84 L941.03,1577.83 L943.49,1577.83 L945.96,1577.82 L948.43,1577.81 L950.90,1577.80 L953.37,1577.79 L955.84,1577.78 L958.31,1577.77 L960.78,1577.76 L963.25,1577.75 L965.72,1577.73 L968.19,1577.72 L970.66,1577.70 L973.13,1577.69 L975.60,1577.67 L978.07,1577.65 L980.54,1577.62 L983.01,1577.60 L985.48,1577.57 L987.95,1577.54 L990.42,1577.51 L992.89,1577.48 L995.36,1577.44 L997.83,1577.40 L1000.30,1577.36 L1002.77,1577.31 L1005.24,1577.26 L1007.71,1577.20 L1010.18,1577.14 L1012.65,1577.07 L1015.12,1577.00 L1017.59,1576.92 L1020.06,1576.84 L1022.53,1576.75 L1025.00,1576.65 L1027.47,1576.54 L1029.94,1576.42 L1032.41,1576.30 L1034.88,1576.16 L1037.35,1576.01 L1039.82,1575.85 L1042.28,1575.67 L1044.75,1575.48 L1047.22,1575.27 L1049.69,1575.05 L1052.16,1574.80 L1054.63,1574.54 L1057.10,1574.25 L1059.57,1573.94 L1062.04,1573.61 L1064.51,1573.24 L1066.98,1572.85 L1069.45,1572.42 L1071.92,1571.96 L1074.39,1571.46 L1076.86,1570.92 L1079.33,1570.33 L1081.80,1569.70 L1084.27,1569.01 L1086.74,1568.27 L1089.21,1567.47 L1091.68,1566.61 L1094.15,1565.68 L1096.62,1564.67 L1099.09,1563.59 L1101.56,1562.42 L1104.03,1561.16 L1106.50,1559.81 L1108.97,1558.36 L1111.44,1556.80 L1113.91,1555.12 L1116.38,1553.32 L1118.85,1551.39 L1121.32,1549.33 L1123.79,1547.13 L1126.26,1544.77 L1128.73,1542.26 L1131.20,1539.59 L1133.67,1536.75 L1136.14,1533.74 L1138.61,1530.54 L1141.07,1527.16 L1143.54,1523.59 L1146.01,1519.82 L1148.48,1515.87 L1150.95,1511.71 L1153.42,1507.36 L1155.89,1502.82 L1158.36,1498.09 L1160.83,1493.17 L1163.30,1488.08 L1165.77,1482.81 L1168.24,1477.38 L1170.71,1471.81 L1173.18,1466.10 L1175.65,1460.27 L1178.12,1454.33 L1180.59,1448.31 L1183.06,1442.23 L1185.53,1436.10 L1188.00,1429.94" fill="none" stroke="#C8342A" stroke-width="1.75" stroke-linejoin="round"/>
<circle cx="894.10" cy="1571.00" r="5.00" fill="#E5321F"/>
<circle cx="923.49" cy="1560.50" r="5.00" fill="#E5321F"/>
<circle cx="952.88" cy="1581.70" r="5.00" fill="#E5321F"/>
<circle cx="982.27" cy="1572.10" r="5.00" fill="#E5321F"/>
<circle cx="1011.66" cy="1592.80" r="5.00" fill="#E5321F"/>
<circle cx="1041.05" cy="1592.80" r="5.00" fill="#E5321F"/>
<circle cx="1070.44" cy="1574.00" r="5.00" fill="#E5321F"/>
<circle cx="1099.83" cy="1563.80" r="5.00" fill="#E5321F"/>
<circle cx="1129.22" cy="1518.40" r="5.00" fill="#E5321F"/>
<circle cx="1158.61" cy="1510.10" r="5.00" fill="#E5321F"/>
<circle cx="1188.00" cy="1425.30" r="5.00" fill="#E5321F"/>
<text transform="translate(-0.90,1762.60) scale(1,1.04)" font-size="29.0" font-weight="bold">g</text>
<text transform="translate(311.90,1772.00) scale(1,1.04)" font-size="24.3" font-weight="bold">Binding</text>
<text transform="translate(60.40,2120.80) rotate(-90) scale(1,1.04)" font-size="24.3" font-weight="bold">Absorbance 450 nm</text>
<text transform="translate(212.80,2262.40) scale(1,1.04)" font-size="24.3" font-weight="bold">Log concentration (pM)</text>
<line x1="111.10" y1="1812.30" x2="111.10" y2="2176.10" stroke="#000" stroke-width="3.6" stroke-linecap="butt"/>
<line x1="97.10" y1="2174.30" x2="112.90" y2="2174.30" stroke="#000" stroke-width="3.6" stroke-linecap="butt"/>
<text transform="translate(93.82,2183.25) scale(1,1.04)" font-size="24.8" font-weight="bold" text-anchor="end">0</text>
<line x1="97.10" y1="2084.25" x2="112.90" y2="2084.25" stroke="#000" stroke-width="3.6" stroke-linecap="butt"/>
<text transform="translate(93.82,2093.20) scale(1,1.04)" font-size="24.8" font-weight="bold" text-anchor="end">1</text>
<line x1="97.10" y1="1994.20" x2="112.90" y2="1994.20" stroke="#000" stroke-width="3.6" stroke-linecap="butt"/>
<text transform="translate(93.82,2003.15) scale(1,1.04)" font-size="24.8" font-weight="bold" text-anchor="end">2</text>
<line x1="97.10" y1="1904.15" x2="112.90" y2="1904.15" stroke="#000" stroke-width="3.6" stroke-linecap="butt"/>
<text transform="translate(93.82,1913.10) scale(1,1.04)" font-size="24.8" font-weight="bold" text-anchor="end">3</text>
<line x1="97.10" y1="1814.10" x2="112.90" y2="1814.10" stroke="#000" stroke-width="3.6" stroke-linecap="butt"/>
<text transform="translate(93.82,1823.05) scale(1,1.04)" font-size="24.8" font-weight="bold" text-anchor="end">4</text>
<line x1="109.30" y1="2174.30" x2="615.70" y2="2174.30" stroke="#000" stroke-width="3.6" stroke-linecap="butt"/>
<line x1="111.10" y1="2172.50" x2="111.10" y2="2188.30" stroke="#000" stroke-width="3.6" stroke-linecap="butt"/>
<text transform="translate(111.10,2216.01) scale(1,1.04)" font-size="24.8" font-weight="bold" text-anchor="middle">-4</text>
<line x1="211.66" y1="2172.50" x2="211.66" y2="2188.30" stroke="#000" stroke-width="3.6" stroke-linecap="butt"/>
<text transform="translate(211.66,2216.01) scale(1,1.04)" font-size="24.8" font-weight="bold" text-anchor="middle">-2</text>
<line x1="312.22" y1="2172.50" x2="312.22" y2="2188.30" stroke="#000" stroke-width="3.6" stroke-linecap="butt"/>
<text transform="translate(312.22,2216.01) scale(1,1.04)" font-size="24.8" font-weight="bold" text-anchor="middle">0</text>
<line x1="412.78" y1="2172.50" x2="412.78" y2="2188.30" stroke="#000" stroke-width="3.6" stroke-linecap="butt"/>
<text transform="translate(412.78,2216.01) scale(1,1.04)" font-size="24.8" font-weight="bold" text-anchor="middle">2</text>
<line x1="513.34" y1="2172.50" x2="513.34" y2="2188.30" stroke="#000" stroke-width="3.6" stroke-linecap="butt"/>
<text transform="translate(513.34,2216.01) scale(1,1.04)" font-size="24.8" font-weight="bold" text-anchor="middle">4</text>
<line x1="613.90" y1="2172.50" x2="613.90" y2="2188.30" stroke="#000" stroke-width="3.6" stroke-linecap="butt"/>
<text transform="translate(625.40,2216.01) scale(1,1.04)" font-size="24.8" font-weight="bold" text-anchor="middle">6</text>
<line x1="134.90" y1="1851.20" x2="171.30" y2="1851.20" stroke="#C8342A" stroke-width="1.6"/>
<circle cx="153.10" cy="1851.20" r="4.90" fill="#E5321F"/>
<text transform="translate(191.30,1860.50) scale(1,1.04)" font-size="24.3" font-weight="normal">AR6948</text>
<line x1="134.90" y1="1878.60" x2="171.30" y2="1878.60" stroke="#37469C" stroke-width="1.6"/>
<rect x="148.35" y="1873.85" width="9.51" height="9.51" fill="#3E53B6"/>
<text transform="translate(191.30,1887.90) scale(1,1.04)" font-size="24.3" font-weight="normal">AR6949</text>
<line x1="134.90" y1="1905.90" x2="171.30" y2="1905.90" stroke="#62AE29" stroke-width="1.6"/>
<polygon points="153.10,1901.04 157.76,1910.46 148.45,1910.46" fill="#67BF1E"/>
<text transform="translate(191.30,1915.20) scale(1,1.04)" font-size="24.3" font-weight="normal">AR6959</text>
<line x1="134.90" y1="1932.50" x2="171.30" y2="1932.50" stroke="#E4932F" stroke-width="1.6"/>
<polygon points="153.10,1937.36 157.76,1927.94 148.45,1927.94" fill="#F29219"/>
<text transform="translate(191.30,1941.80) scale(1,1.04)" font-size="24.3" font-weight="normal">AR6953</text>
<path d="M211.40,2167.72 L214.24,2167.72 L217.07,2167.72 L219.91,2167.72 L222.74,2167.72 L225.58,2167.72 L228.41,2167.72 L231.25,2167.72 L234.08,2167.72 L236.92,2167.72 L239.75,2167.72 L242.59,2167.72 L245.42,2167.72 L248.26,2167.72 L251.09,2167.71 L253.93,2167.71 L256.76,2167.71 L259.60,2167.71 L262.44,2167.71 L265.27,2167.71 L268.11,2167.71 L270.94,2167.71 L273.78,2167.71 L276.61,2167.70 L279.45,2167.70 L282.28,2167.70 L285.12,2167.70 L287.95,2167.69 L290.79,2167.69 L293.62,2167.69 L296.46,2167.68 L299.29,2167.68 L302.13,2167.67 L304.96,2167.67 L307.80,2167.66 L310.64,2167.65 L313.47,2167.64 L316.31,2167.63 L319.14,2167.62 L321.98,2167.60 L324.81,2167.59 L327.65,2167.57 L330.48,2167.55 L333.32,2167.53 L336.15,2167.50 L338.99,2167.47 L341.82,2167.44 L344.66,2167.40 L347.49,2167.36 L350.33,2167.31 L353.16,2167.26 L356.00,2167.20 L358.84,2167.12 L361.67,2167.04 L364.51,2166.95 L367.34,2166.85 L370.18,2166.73 L373.01,2166.60 L375.85,2166.45 L378.68,2166.28 L381.52,2166.09 L384.35,2165.87 L387.19,2165.63 L390.02,2165.35 L392.86,2165.03 L395.69,2164.67 L398.53,2164.27 L401.36,2163.81 L404.20,2163.30 L407.04,2162.71 L409.87,2162.06 L412.71,2161.32 L415.54,2160.48 L418.38,2159.55 L421.21,2158.49 L424.05,2157.31 L426.88,2155.98 L429.72,2154.50 L432.55,2152.85 L435.39,2151.00 L438.22,2148.95 L441.06,2146.67 L443.89,2144.15 L446.73,2141.38 L449.56,2138.33 L452.40,2134.98 L455.24,2131.34 L458.07,2127.38 L460.91,2123.11 L463.74,2118.51 L466.58,2113.60 L469.41,2108.38 L472.25,2102.87 L475.08,2097.09 L477.92,2091.07 L480.75,2084.85 L483.59,2078.46 L486.42,2071.96 L489.26,2065.39 L492.09,2058.81 L494.93,2052.27 L497.76,2045.81 L500.60,2039.50 L503.44,2033.37 L506.27,2027.46 L509.11,2021.80 L511.94,2016.42 L514.78,2011.35 L517.61,2006.58 L520.45,2002.14 L523.28,1998.01 L526.12,1994.21 L528.95,1990.70 L531.79,1987.50 L534.62,1984.58 L537.46,1981.93 L540.29,1979.53 L543.13,1977.36 L545.96,1975.41 L548.80,1973.65" fill="none" stroke="#E4932F" stroke-width="1.75" stroke-linejoin="round"/>
<polygon points="211.40,2171.95 216.15,2162.35 206.65,2162.35" fill="#F29219"/>
<polygon points="235.50,2171.95 240.25,2162.35 230.75,2162.35" fill="#F29219"/>
<polygon points="259.60,2171.95 264.35,2162.35 254.85,2162.35" fill="#F29219"/>
<polygon points="283.70,2171.95 288.45,2162.35 278.95,2162.35" fill="#F29219"/>
<polygon points="307.80,2171.95 312.55,2162.35 303.05,2162.35" fill="#F29219"/>
<polygon points="331.90,2171.95 336.65,2162.35 327.15,2162.35" fill="#F29219"/>
<polygon points="356.00,2171.95 360.75,2162.35 351.25,2162.35" fill="#F29219"/>
<polygon points="380.10,2171.95 384.85,2162.35 375.35,2162.35" fill="#F29219"/>
<polygon points="404.20,2167.95 408.95,2158.35 399.45,2158.35" fill="#F29219"/>
<polygon points="428.30,2164.95 433.05,2155.35 423.55,2155.35" fill="#F29219"/>
<polygon points="452.40,2141.95 457.15,2132.35 447.65,2132.35" fill="#F29219"/>
<polygon points="476.50,2093.65 481.25,2084.05 471.75,2084.05" fill="#F29219"/>
<polygon points="500.60,2046.45 505.35,2036.85 495.85,2036.85" fill="#F29219"/>
<polygon points="524.70,2003.55 529.45,1993.95 519.95,1993.95" fill="#F29219"/>
<polygon points="548.80,1976.45 553.55,1966.85 544.05,1966.85" fill="#F29219"/>
<path d="M211.40,2167.17 L214.24,2167.17 L217.07,2167.17 L219.91,2167.17 L222.74,2167.17 L225.58,2167.17 L228.41,2167.17 L231.25,2167.17 L234.08,2167.17 L236.92,2167.17 L239.75,2167.17 L242.59,2167.17 L245.42,2167.17 L248.26,2167.17 L251.09,2167.17 L253.93,2167.17 L256.76,2167.17 L259.60,2167.16 L262.44,2167.16 L265.27,2167.16 L268.11,2167.16 L270.94,2167.16 L273.78,2167.16 L276.61,2167.15 L279.45,2167.15 L282.28,2167.15 L285.12,2167.15 L287.95,2167.14 L290.79,2167.14 L293.62,2167.14 L296.46,2167.13 L299.29,2167.12 L302.13,2167.12 L304.96,2167.11 L307.80,2167.10 L310.64,2167.09 L313.47,2167.08 L316.31,2167.07 L319.14,2167.06 L321.98,2167.04 L324.81,2167.02 L327.65,2167.00 L330.48,2166.98 L333.32,2166.95 L336.15,2166.92 L338.99,2166.89 L341.82,2166.85 L344.66,2166.81 L347.49,2166.76 L350.33,2166.70 L353.16,2166.63 L356.00,2166.56 L358.84,2166.48 L361.67,2166.38 L364.51,2166.28 L367.34,2166.15 L370.18,2166.01 L373.01,2165.86 L375.85,2165.68 L378.68,2165.48 L381.52,2165.25 L384.35,2164.99 L387.19,2164.69 L390.02,2164.36 L392.86,2163.98 L395.69,2163.55 L398.53,2163.06 L401.36,2162.51 L404.20,2161.89 L407.04,2161.18 L409.87,2160.39 L412.71,2159.49 L415.54,2158.49 L418.38,2157.35 L421.21,2156.07 L424.05,2154.64 L426.88,2153.03 L429.72,2151.24 L432.55,2149.23 L435.39,2146.99 L438.22,2144.51 L441.06,2141.76 L443.89,2138.72 L446.73,2135.37 L449.56,2131.70 L452.40,2127.69 L455.24,2123.33 L458.07,2118.62 L460.91,2113.54 L463.74,2108.10 L466.58,2102.32 L469.41,2096.21 L472.25,2089.80 L475.08,2083.12 L477.92,2076.20 L480.75,2069.10 L483.59,2061.88 L486.42,2054.58 L489.26,2047.27 L492.09,2040.00 L494.93,2032.83 L497.76,2025.83 L500.60,2019.03 L503.44,2012.49 L506.27,2006.24 L509.11,2000.30 L511.94,1994.71 L514.78,1989.46 L517.61,1984.58 L520.45,1980.06 L523.28,1975.89 L526.12,1972.06 L528.95,1968.57 L531.79,1965.39 L534.62,1962.51 L537.46,1959.90 L540.29,1957.55 L543.13,1955.45 L545.96,1953.55 L548.80,1951.86" fill="none" stroke="#62AE29" stroke-width="1.75" stroke-linejoin="round"/>
<polygon points="211.40,2161.55 216.15,2171.15 206.65,2171.15" fill="#67BF1E"/>
<polygon points="235.50,2161.55 240.25,2171.15 230.75,2171.15" fill="#67BF1E"/>
<polygon points="259.60,2161.55 264.35,2171.15 254.85,2171.15" fill="#67BF1E"/>
<polygon points="283.70,2161.55 288.45,2171.15 278.95,2171.15" fill="#67BF1E"/>
<polygon points="307.80,2161.55 312.55,2171.15 303.05,2171.15" fill="#67BF1E"/>
<polygon points="331.90,2161.55 336.65,2171.15 327.15,2171.15" fill="#67BF1E"/>
<polygon points="356.00,2161.55 360.75,2171.15 351.25,2171.15" fill="#67BF1E"/>
<polygon points="380.10,2161.55 384.85,2171.15 375.35,2171.15" fill="#67BF1E"/>
<polygon points="404.20,2155.65 408.95,2165.25 399.45,2165.25" fill="#67BF1E"/>
<polygon points="428.30,2151.65 433.05,2161.25 423.55,2161.25" fill="#67BF1E"/>
<polygon points="452.40,2126.45 457.15,2136.05 447.65,2136.05" fill="#67BF1E"/>
<polygon points="476.50,2066.15 481.25,2075.75 471.75,2075.75" fill="#67BF1E"/>
<polygon points="500.60,2020.35 505.35,2029.95 495.85,2029.95" fill="#67BF1E"/>
<polygon points="524.70,1967.95 529.45,1977.55 519.95,1977.55" fill="#67BF1E"/>
<polygon points="548.80,1946.05 553.55,1955.65 544.05,1955.65" fill="#67BF1E"/>
<path d="M211.40,2167.50 L235.50,2167.50 L259.60,2167.50 L283.70,2167.50 L307.80,2167.50 L331.90,2167.50 L356.00,2167.50 L380.10,2167.50 L404.20,2165.00 L428.30,2162.30 L452.40,2148.80 L476.50,2135.10 L500.60,2123.00 L524.70,2107.30 L548.80,2105.90" fill="none" stroke="#37469C" stroke-width="1.75" stroke-linejoin="round"/>
<rect x="206.55" y="2162.65" width="9.70" height="9.70" fill="#3E53B6"/>
<rect x="230.65" y="2162.65" width="9.70" height="9.70" fill="#3E53B6"/>
<rect x="254.75" y="2162.65" width="9.70" height="9.70" fill="#3E53B6"/>
<rect x="278.85" y="2162.65" width="9.70" height="9.70" fill="#3E53B6"/>
<rect x="302.95" y="2162.65" width="9.70" height="9.70" fill="#3E53B6"/>
<rect x="327.05" y="2162.65" width="9.70" height="9.70" fill="#3E53B6"/>
<rect x="351.15" y="2162.65" width="9.70" height="9.70" fill="#3E53B6"/>
<rect x="375.25" y="2162.65" width="9.70" height="9.70" fill="#3E53B6"/>
<rect x="399.35" y="2160.15" width="9.70" height="9.70" fill="#3E53B6"/>
<rect x="423.45" y="2157.45" width="9.70" height="9.70" fill="#3E53B6"/>
<rect x="447.55" y="2143.95" width="9.70" height="9.70" fill="#3E53B6"/>
<rect x="471.65" y="2130.25" width="9.70" height="9.70" fill="#3E53B6"/>
<rect x="495.75" y="2118.15" width="9.70" height="9.70" fill="#3E53B6"/>
<rect x="519.85" y="2102.45" width="9.70" height="9.70" fill="#3E53B6"/>
<rect x="543.95" y="2101.05" width="9.70" height="9.70" fill="#3E53B6"/>
<path d="M211.40,2169.00 L235.50,2169.00 L259.60,2169.00 L283.70,2169.00 L307.80,2169.00 L331.90,2169.00 L356.00,2169.00 L380.10,2169.00 L404.20,2168.70 L428.30,2168.70 L452.40,2165.90 L476.50,2155.80 L500.60,2135.90 L524.70,2110.90 L548.80,2093.00" fill="none" stroke="#C8342A" stroke-width="1.75" stroke-linejoin="round"/>
<circle cx="211.40" cy="2169.00" r="5.00" fill="#E5321F"/>
<circle cx="235.50" cy="2169.00" r="5.00" fill="#E5321F"/>
<circle cx="259.60" cy="2169.00" r="5.00" fill="#E5321F"/>
<circle cx="283.70" cy="2169.00" r="5.00" fill="#E5321F"/>
<circle cx="307.80" cy="2169.00" r="5.00" fill="#E5321F"/>
<circle cx="331.90" cy="2169.00" r="5.00" fill="#E5321F"/>
<circle cx="356.00" cy="2169.00" r="5.00" fill="#E5321F"/>
<circle cx="380.10" cy="2169.00" r="5.00" fill="#E5321F"/>
<circle cx="404.20" cy="2168.70" r="5.00" fill="#E5321F"/>
<circle cx="428.30" cy="2168.70" r="5.00" fill="#E5321F"/>
<circle cx="452.40" cy="2165.90" r="5.00" fill="#E5321F"/>
<circle cx="476.50" cy="2155.80" r="5.00" fill="#E5321F"/>
<circle cx="500.60" cy="2135.90" r="5.00" fill="#E5321F"/>
<circle cx="524.70" cy="2110.90" r="5.00" fill="#E5321F"/>
<circle cx="548.80" cy="2093.00" r="5.00" fill="#E5321F"/>
<text transform="translate(652.00,1764.40) scale(1,1.04)" font-size="29.0" font-weight="bold">h</text>
<text transform="translate(973.40,1767.00) scale(1,1.04)" font-size="24.3" font-weight="bold">Inhibition</text>
<text transform="translate(697.40,2109.15) rotate(-90) scale(1,1.04)" font-size="24.3" font-weight="bold">Inhibition (%)</text>
<text transform="translate(884.60,2257.40) scale(1,1.04)" font-size="24.3" font-weight="bold">Log concentration (pM)</text>
<line x1="783.40" y1="1806.20" x2="783.40" y2="2245.40" stroke="#000" stroke-width="3.6" stroke-linecap="butt"/>
<line x1="769.40" y1="1808.00" x2="785.20" y2="1808.00" stroke="#000" stroke-width="3.6" stroke-linecap="butt"/>
<text transform="translate(763.12,1816.95) scale(1,1.04)" font-size="24.8" font-weight="bold" text-anchor="end">100</text>
<line x1="769.40" y1="1880.60" x2="785.20" y2="1880.60" stroke="#000" stroke-width="3.6" stroke-linecap="butt"/>
<text transform="translate(764.52,1889.55) scale(1,1.04)" font-size="24.8" font-weight="bold" text-anchor="end">80</text>
<line x1="769.40" y1="1953.20" x2="785.20" y2="1953.20" stroke="#000" stroke-width="3.6" stroke-linecap="butt"/>
<text transform="translate(764.52,1962.15) scale(1,1.04)" font-size="24.8" font-weight="bold" text-anchor="end">60</text>
<line x1="769.40" y1="2025.80" x2="785.20" y2="2025.80" stroke="#000" stroke-width="3.6" stroke-linecap="butt"/>
<text transform="translate(764.52,2034.75) scale(1,1.04)" font-size="24.8" font-weight="bold" text-anchor="end">40</text>
<line x1="769.40" y1="2098.40" x2="785.20" y2="2098.40" stroke="#000" stroke-width="3.6" stroke-linecap="butt"/>
<text transform="translate(764.52,2107.35) scale(1,1.04)" font-size="24.8" font-weight="bold" text-anchor="end">20</text>
<line x1="769.40" y1="2171.00" x2="785.20" y2="2171.00" stroke="#000" stroke-width="3.6" stroke-linecap="butt"/>
<text transform="translate(765.92,2179.95) scale(1,1.04)" font-size="24.8" font-weight="bold" text-anchor="end">0</text>
<line x1="769.40" y1="2243.60" x2="785.20" y2="2243.60" stroke="#000" stroke-width="3.6" stroke-linecap="butt"/>
<text transform="translate(765.92,2252.55) scale(1,1.04)" font-size="24.8" font-weight="bold" text-anchor="end">-20</text>
<line x1="781.60" y1="2171.00" x2="1287.10" y2="2171.00" stroke="#000" stroke-width="3.6" stroke-linecap="butt"/>
<line x1="909.10" y1="2169.20" x2="909.10" y2="2185.00" stroke="#000" stroke-width="3.6" stroke-linecap="butt"/>
<text transform="translate(909.10,2213.41) scale(1,1.04)" font-size="24.8" font-weight="bold" text-anchor="middle">0</text>
<line x1="1034.50" y1="2169.20" x2="1034.50" y2="2185.00" stroke="#000" stroke-width="3.6" stroke-linecap="butt"/>
<text transform="translate(1034.50,2213.41) scale(1,1.04)" font-size="24.8" font-weight="bold" text-anchor="middle">2</text>
<line x1="1159.90" y1="2169.20" x2="1159.90" y2="2185.00" stroke="#000" stroke-width="3.6" stroke-linecap="butt"/>
<text transform="translate(1159.90,2213.41) scale(1,1.04)" font-size="24.8" font-weight="bold" text-anchor="middle">4</text>
<line x1="1285.30" y1="2169.20" x2="1285.30" y2="2185.00" stroke="#000" stroke-width="3.6" stroke-linecap="butt"/>
<text transform="translate(1285.30,2213.41) scale(1,1.04)" font-size="24.8" font-weight="bold" text-anchor="middle">6</text>
<line x1="795.50" y1="1825.50" x2="832.50" y2="1825.50" stroke="#C8342A" stroke-width="1.6"/>
<circle cx="814.00" cy="1825.50" r="4.90" fill="#E5321F"/>
<text transform="translate(852.70,1834.80) scale(1,1.04)" font-size="24.3" font-weight="normal">AR6948</text>
<line x1="795.50" y1="1851.40" x2="832.50" y2="1851.40" stroke="#37469C" stroke-width="1.6"/>
<rect x="809.25" y="1846.65" width="9.51" height="9.51" fill="#3E53B6"/>
<text transform="translate(852.70,1860.70) scale(1,1.04)" font-size="24.3" font-weight="normal">AR6949</text>
<line x1="795.50" y1="1877.30" x2="832.50" y2="1877.30" stroke="#62AE29" stroke-width="1.6"/>
<polygon points="814.00,1872.44 818.65,1881.86 809.35,1881.86" fill="#67BF1E"/>
<text transform="translate(852.70,1886.60) scale(1,1.04)" font-size="24.3" font-weight="normal">AR6959</text>
<line x1="795.50" y1="1902.10" x2="832.50" y2="1902.10" stroke="#E4932F" stroke-width="1.6"/>
<polygon points="814.00,1906.96 818.65,1897.54 809.35,1897.54" fill="#F29219"/>
<text transform="translate(852.70,1911.40) scale(1,1.04)" font-size="24.3" font-weight="normal">AR6953</text>
<path d="M903.80,2138.17 L906.32,2138.29 L908.84,2138.43 L911.36,2138.57 L913.88,2138.73 L916.41,2138.91 L918.93,2139.10 L921.45,2139.31 L923.97,2139.54 L926.49,2139.79 L929.01,2140.06 L931.53,2140.36 L934.05,2140.68 L936.57,2141.03 L939.09,2141.42 L941.62,2141.84 L944.14,2142.29 L946.66,2142.78 L949.18,2143.32 L951.70,2143.89 L954.22,2144.52 L956.74,2145.20 L959.26,2145.92 L961.78,2146.71 L964.30,2147.55 L966.83,2148.46 L969.35,2149.43 L971.87,2150.47 L974.39,2151.58 L976.91,2152.75 L979.43,2154.00 L981.95,2155.33 L984.47,2156.73 L986.99,2158.20 L989.51,2159.74 L992.04,2161.35 L994.56,2163.03 L997.08,2164.78 L999.60,2166.58 L1002.12,2168.44 L1004.64,2170.35 L1007.16,2172.30 L1009.68,2174.29 L1012.20,2176.31 L1014.72,2178.34 L1017.25,2180.38 L1019.77,2182.42 L1022.29,2184.46 L1024.81,2186.48 L1027.33,2188.47 L1029.85,2190.43 L1032.37,2192.35 L1034.89,2194.23 L1037.41,2196.05 L1039.93,2197.81 L1042.46,2199.50 L1044.98,2201.13 L1047.50,2202.69 L1050.02,2204.18 L1052.54,2205.59 L1055.06,2206.94 L1057.58,2208.20 L1060.10,2209.40 L1062.62,2210.52 L1065.14,2211.58 L1067.67,2212.56 L1070.19,2213.49 L1072.71,2214.34 L1075.23,2215.14 L1077.75,2215.89 L1080.27,2216.57 L1082.79,2217.21 L1085.31,2217.80 L1087.83,2218.35 L1090.35,2218.85 L1092.88,2219.31 L1095.40,2219.74 L1097.92,2220.13 L1100.44,2220.49 L1102.96,2220.82 L1105.48,2221.12 L1108.00,2221.40 L1110.52,2221.66 L1113.04,2221.89 L1115.56,2222.10 L1118.09,2222.30 L1120.61,2222.48 L1123.13,2222.64 L1125.65,2222.79 L1128.17,2222.93 L1130.69,2223.05 L1133.21,2223.17 L1135.73,2223.27 L1138.25,2223.37 L1140.77,2223.45 L1143.30,2223.53 L1145.82,2223.60 L1148.34,2223.67 L1150.86,2223.73 L1153.38,2223.79 L1155.90,2223.84 L1158.42,2223.88 L1160.94,2223.92 L1163.46,2223.96 L1165.98,2223.99 L1168.51,2224.03 L1171.03,2224.05 L1173.55,2224.08 L1176.07,2224.10 L1178.59,2224.13 L1181.11,2224.15 L1183.63,2224.16 L1186.15,2224.18 L1188.67,2224.20 L1191.19,2224.21 L1193.72,2224.22 L1196.24,2224.23 L1198.76,2224.24 L1201.28,2224.25 L1203.80,2224.26" fill="none" stroke="#E4932F" stroke-width="1.75" stroke-linejoin="round"/>
<polygon points="903.80,2145.85 908.55,2136.25 899.05,2136.25" fill="#F29219"/>
<polygon points="933.80,2136.25 938.55,2126.65 929.05,2126.65" fill="#F29219"/>
<polygon points="963.80,2161.45 968.55,2151.85 959.05,2151.85" fill="#F29219"/>
<polygon points="993.80,2152.75 998.55,2143.15 989.05,2143.15" fill="#F29219"/>
<polygon points="1023.80,2213.95 1028.55,2204.35 1019.05,2204.35" fill="#F29219"/>
<polygon points="1053.80,2194.45 1058.55,2184.85 1049.05,2184.85" fill="#F29219"/>
<polygon points="1083.80,2212.75 1088.55,2203.15 1079.05,2203.15" fill="#F29219"/>
<polygon points="1113.80,2238.85 1118.55,2229.25 1109.05,2229.25" fill="#F29219"/>
<polygon points="1143.80,2238.85 1148.55,2229.25 1139.05,2229.25" fill="#F29219"/>
<polygon points="1173.80,2240.95 1178.55,2231.35 1169.05,2231.35" fill="#F29219"/>
<polygon points="1203.80,2190.65 1208.55,2181.05 1199.05,2181.05" fill="#F29219"/>
<path d="M903.80,2150.18 L906.32,2150.17 L908.84,2150.16 L911.36,2150.15 L913.88,2150.13 L916.41,2150.11 L918.93,2150.09 L921.45,2150.07 L923.97,2150.05 L926.49,2150.03 L929.01,2150.00 L931.53,2149.97 L934.05,2149.94 L936.57,2149.90 L939.09,2149.86 L941.62,2149.82 L944.14,2149.77 L946.66,2149.72 L949.18,2149.66 L951.70,2149.59 L954.22,2149.52 L956.74,2149.45 L959.26,2149.36 L961.78,2149.27 L964.30,2149.16 L966.83,2149.05 L969.35,2148.93 L971.87,2148.79 L974.39,2148.64 L976.91,2148.47 L979.43,2148.29 L981.95,2148.09 L984.47,2147.87 L986.99,2147.63 L989.51,2147.37 L992.04,2147.07 L994.56,2146.76 L997.08,2146.41 L999.60,2146.02 L1002.12,2145.60 L1004.64,2145.14 L1007.16,2144.63 L1009.68,2144.07 L1012.20,2143.46 L1014.72,2142.79 L1017.25,2142.06 L1019.77,2141.26 L1022.29,2140.39 L1024.81,2139.43 L1027.33,2138.39 L1029.85,2137.25 L1032.37,2136.00 L1034.89,2134.65 L1037.41,2133.17 L1039.93,2131.57 L1042.46,2129.82 L1044.98,2127.93 L1047.50,2125.87 L1050.02,2123.65 L1052.54,2121.25 L1055.06,2118.65 L1057.58,2115.86 L1060.10,2112.85 L1062.62,2109.63 L1065.14,2106.17 L1067.67,2102.48 L1070.19,2098.54 L1072.71,2094.36 L1075.23,2089.92 L1077.75,2085.23 L1080.27,2080.29 L1082.79,2075.10 L1085.31,2069.67 L1087.83,2064.00 L1090.35,2058.11 L1092.88,2052.01 L1095.40,2045.73 L1097.92,2039.27 L1100.44,2032.68 L1102.96,2025.96 L1105.48,2019.16 L1108.00,2012.30 L1110.52,2005.40 L1113.04,1998.51 L1115.56,1991.66 L1118.09,1984.87 L1120.61,1978.17 L1123.13,1971.60 L1125.65,1965.17 L1128.17,1958.92 L1130.69,1952.85 L1133.21,1947.00 L1135.73,1941.37 L1138.25,1935.97 L1140.77,1930.82 L1143.30,1925.92 L1145.82,1921.27 L1148.34,1916.88 L1150.86,1912.74 L1153.38,1908.84 L1155.90,1905.19 L1158.42,1901.78 L1160.94,1898.59 L1163.46,1895.62 L1165.98,1892.86 L1168.51,1890.29 L1171.03,1887.92 L1173.55,1885.73 L1176.07,1883.70 L1178.59,1881.83 L1181.11,1880.11 L1183.63,1878.53 L1186.15,1877.07 L1188.67,1875.74 L1191.19,1874.51 L1193.72,1873.39 L1196.24,1872.36 L1198.76,1871.41 L1201.28,1870.55 L1203.80,1869.76" fill="none" stroke="#62AE29" stroke-width="1.75" stroke-linejoin="round"/>
<polygon points="903.80,2141.15 908.55,2150.75 899.05,2150.75" fill="#67BF1E"/>
<polygon points="933.80,2132.45 938.55,2142.05 929.05,2142.05" fill="#67BF1E"/>
<polygon points="963.80,2166.05 968.55,2175.65 959.05,2175.65" fill="#67BF1E"/>
<polygon points="993.80,2136.75 998.55,2146.35 989.05,2146.35" fill="#67BF1E"/>
<polygon points="1023.80,2139.35 1028.55,2148.95 1019.05,2148.95" fill="#67BF1E"/>
<polygon points="1053.80,2121.65 1058.55,2131.25 1049.05,2131.25" fill="#67BF1E"/>
<polygon points="1083.80,2059.15 1088.55,2068.75 1079.05,2068.75" fill="#67BF1E"/>
<polygon points="1113.80,1996.25 1118.55,2005.85 1109.05,2005.85" fill="#67BF1E"/>
<polygon points="1143.80,1915.05 1148.55,1924.65 1139.05,1924.65" fill="#67BF1E"/>
<polygon points="1173.80,1889.15 1178.55,1898.75 1169.05,1898.75" fill="#67BF1E"/>
<polygon points="1203.80,1861.15 1208.55,1870.75 1199.05,1870.75" fill="#67BF1E"/>
<path d="M903.80,2163.96 L906.32,2163.94 L908.84,2163.92 L911.36,2163.90 L913.88,2163.88 L916.41,2163.86 L918.93,2163.83 L921.45,2163.80 L923.97,2163.77 L926.49,2163.74 L929.01,2163.70 L931.53,2163.66 L934.05,2163.61 L936.57,2163.56 L939.09,2163.51 L941.62,2163.45 L944.14,2163.38 L946.66,2163.31 L949.18,2163.23 L951.70,2163.14 L954.22,2163.04 L956.74,2162.94 L959.26,2162.82 L961.78,2162.69 L964.30,2162.55 L966.83,2162.40 L969.35,2162.23 L971.87,2162.04 L974.39,2161.84 L976.91,2161.61 L979.43,2161.37 L981.95,2161.10 L984.47,2160.81 L986.99,2160.48 L989.51,2160.13 L992.04,2159.74 L994.56,2159.32 L997.08,2158.85 L999.60,2158.35 L1002.12,2157.79 L1004.64,2157.19 L1007.16,2156.53 L1009.68,2155.80 L1012.20,2155.02 L1014.72,2154.16 L1017.25,2153.23 L1019.77,2152.21 L1022.29,2151.11 L1024.81,2149.91 L1027.33,2148.61 L1029.85,2147.21 L1032.37,2145.69 L1034.89,2144.04 L1037.41,2142.27 L1039.93,2140.37 L1042.46,2138.32 L1044.98,2136.13 L1047.50,2133.78 L1050.02,2131.27 L1052.54,2128.61 L1055.06,2125.77 L1057.58,2122.77 L1060.10,2119.60 L1062.62,2116.26 L1065.14,2112.75 L1067.67,2109.09 L1070.19,2105.27 L1072.71,2101.30 L1075.23,2097.20 L1077.75,2092.97 L1080.27,2088.62 L1082.79,2084.19 L1085.31,2079.67 L1087.83,2075.10 L1090.35,2070.49 L1092.88,2065.85 L1095.40,2061.22 L1097.92,2056.61 L1100.44,2052.04 L1102.96,2047.54 L1105.48,2043.11 L1108.00,2038.78 L1110.52,2034.56 L1113.04,2030.47 L1115.56,2026.52 L1118.09,2022.71 L1120.61,2019.07 L1123.13,2015.58 L1125.65,2012.26 L1128.17,2009.10 L1130.69,2006.12 L1133.21,2003.30 L1135.73,2000.65 L1138.25,1998.16 L1140.77,1995.83 L1143.30,1993.66 L1145.82,1991.63 L1148.34,1989.74 L1150.86,1987.98 L1153.38,1986.35 L1155.90,1984.84 L1158.42,1983.45 L1160.94,1982.16 L1163.46,1980.98 L1165.98,1979.88 L1168.51,1978.88 L1171.03,1977.95 L1173.55,1977.10 L1176.07,1976.32 L1178.59,1975.61 L1181.11,1974.95 L1183.63,1974.35 L1186.15,1973.80 L1188.67,1973.30 L1191.19,1972.84 L1193.72,1972.42 L1196.24,1972.04 L1198.76,1971.69 L1201.28,1971.37 L1203.80,1971.08" fill="none" stroke="#37469C" stroke-width="1.75" stroke-linejoin="round"/>
<rect x="898.95" y="2152.55" width="9.70" height="9.70" fill="#3E53B6"/>
<rect x="928.95" y="2148.15" width="9.70" height="9.70" fill="#3E53B6"/>
<rect x="958.95" y="2166.45" width="9.70" height="9.70" fill="#3E53B6"/>
<rect x="988.95" y="2159.45" width="9.70" height="9.70" fill="#3E53B6"/>
<rect x="1018.95" y="2158.25" width="9.70" height="9.70" fill="#3E53B6"/>
<rect x="1048.95" y="2104.75" width="9.70" height="9.70" fill="#3E53B6"/>
<rect x="1078.95" y="2076.75" width="9.70" height="9.70" fill="#3E53B6"/>
<rect x="1108.95" y="2005.35" width="9.70" height="9.70" fill="#3E53B6"/>
<rect x="1138.95" y="2023.55" width="9.70" height="9.70" fill="#3E53B6"/>
<rect x="1168.95" y="1976.75" width="9.70" height="9.70" fill="#3E53B6"/>
<rect x="1198.95" y="1941.75" width="9.70" height="9.70" fill="#3E53B6"/>
<path d="M903.80,2193.09 L906.32,2193.09 L908.84,2193.09 L911.36,2193.09 L913.88,2193.09 L916.41,2193.09 L918.93,2193.09 L921.45,2193.10 L923.97,2193.10 L926.49,2193.10 L929.01,2193.10 L931.53,2193.10 L934.05,2193.10 L936.57,2193.10 L939.09,2193.11 L941.62,2193.11 L944.14,2193.11 L946.66,2193.11 L949.18,2193.12 L951.70,2193.12 L954.22,2193.12 L956.74,2193.13 L959.26,2193.13 L961.78,2193.14 L964.30,2193.14 L966.83,2193.15 L969.35,2193.15 L971.87,2193.16 L974.39,2193.17 L976.91,2193.18 L979.43,2193.19 L981.95,2193.20 L984.47,2193.21 L986.99,2193.22 L989.51,2193.24 L992.04,2193.25 L994.56,2193.27 L997.08,2193.29 L999.60,2193.31 L1002.12,2193.34 L1004.64,2193.36 L1007.16,2193.39 L1009.68,2193.42 L1012.20,2193.46 L1014.72,2193.50 L1017.25,2193.54 L1019.77,2193.59 L1022.29,2193.64 L1024.81,2193.70 L1027.33,2193.77 L1029.85,2193.84 L1032.37,2193.91 L1034.89,2194.00 L1037.41,2194.09 L1039.93,2194.20 L1042.46,2194.31 L1044.98,2194.44 L1047.50,2194.58 L1050.02,2194.73 L1052.54,2194.90 L1055.06,2195.08 L1057.58,2195.28 L1060.10,2195.50 L1062.62,2195.74 L1065.14,2196.00 L1067.67,2196.29 L1070.19,2196.60 L1072.71,2196.95 L1075.23,2197.32 L1077.75,2197.72 L1080.27,2198.16 L1082.79,2198.64 L1085.31,2199.15 L1087.83,2199.70 L1090.35,2200.30 L1092.88,2200.93 L1095.40,2201.62 L1097.92,2202.35 L1100.44,2203.12 L1102.96,2203.95 L1105.48,2204.82 L1108.00,2205.73 L1110.52,2206.69 L1113.04,2207.70 L1115.56,2208.75 L1118.09,2209.83 L1120.61,2210.95 L1123.13,2212.10 L1125.65,2213.28 L1128.17,2214.48 L1130.69,2215.69 L1133.21,2216.91 L1135.73,2218.13 L1138.25,2219.35 L1140.77,2220.56 L1143.30,2221.76 L1145.82,2222.93 L1148.34,2224.08 L1150.86,2225.20 L1153.38,2226.29 L1155.90,2227.33 L1158.42,2228.33 L1160.94,2229.29 L1163.46,2230.21 L1165.98,2231.08 L1168.51,2231.90 L1171.03,2232.67 L1173.55,2233.40 L1176.07,2234.08 L1178.59,2234.72 L1181.11,2235.31 L1183.63,2235.86 L1186.15,2236.37 L1188.67,2236.84 L1191.19,2237.28 L1193.72,2237.68 L1196.24,2238.05 L1198.76,2238.40 L1201.28,2238.71 L1203.80,2238.99" fill="none" stroke="#C8342A" stroke-width="1.75" stroke-linejoin="round"/>
<circle cx="903.80" cy="2179.30" r="5.00" fill="#E5321F"/>
<circle cx="933.80" cy="2186.70" r="5.00" fill="#E5321F"/>
<circle cx="963.80" cy="2210.10" r="5.00" fill="#E5321F"/>
<circle cx="993.80" cy="2201.20" r="5.00" fill="#E5321F"/>
<circle cx="1023.80" cy="2203.40" r="5.00" fill="#E5321F"/>
<circle cx="1053.80" cy="2181.70" r="5.00" fill="#E5321F"/>
<circle cx="1083.80" cy="2201.70" r="5.00" fill="#E5321F"/>
<circle cx="1113.80" cy="2194.40" r="5.00" fill="#E5321F"/>
<circle cx="1143.80" cy="2226.90" r="5.00" fill="#E5321F"/>
<circle cx="1173.80" cy="2234.70" r="5.00" fill="#E5321F"/>
<circle cx="1203.80" cy="2238.20" r="5.00" fill="#E5321F"/>
<text transform="translate(1308.40,1762.70) scale(1,1.04)" font-size="29.0" font-weight="bold">i</text>
<text transform="translate(1633.70,1772.70) scale(1,1.04)" font-size="24.3" font-weight="bold">Inhibition</text>
<text transform="translate(1360.20,2092.15) rotate(-90) scale(1,1.04)" font-size="24.3" font-weight="bold">Inhibition (%)</text>
<text transform="translate(1544.60,2251.60) scale(1,1.04)" font-size="24.3" font-weight="bold">Log concentration (pM)</text>
<line x1="1443.70" y1="1835.20" x2="1443.70" y2="2173.80" stroke="#000" stroke-width="3.6" stroke-linecap="butt"/>
<line x1="1429.70" y1="1837.00" x2="1445.50" y2="1837.00" stroke="#000" stroke-width="3.6" stroke-linecap="butt"/>
<text transform="translate(1423.22,1845.95) scale(1,1.04)" font-size="24.8" font-weight="bold" text-anchor="end">100</text>
<line x1="1429.70" y1="1904.00" x2="1445.50" y2="1904.00" stroke="#000" stroke-width="3.6" stroke-linecap="butt"/>
<text transform="translate(1424.62,1912.95) scale(1,1.04)" font-size="24.8" font-weight="bold" text-anchor="end">80</text>
<line x1="1429.70" y1="1971.00" x2="1445.50" y2="1971.00" stroke="#000" stroke-width="3.6" stroke-linecap="butt"/>
<text transform="translate(1424.62,1979.95) scale(1,1.04)" font-size="24.8" font-weight="bold" text-anchor="end">60</text>
<line x1="1429.70" y1="2038.00" x2="1445.50" y2="2038.00" stroke="#000" stroke-width="3.6" stroke-linecap="butt"/>
<text transform="translate(1424.62,2046.95) scale(1,1.04)" font-size="24.8" font-weight="bold" text-anchor="end">40</text>
<line x1="1429.70" y1="2105.00" x2="1445.50" y2="2105.00" stroke="#000" stroke-width="3.6" stroke-linecap="butt"/>
<text transform="translate(1424.62,2113.95) scale(1,1.04)" font-size="24.8" font-weight="bold" text-anchor="end">20</text>
<line x1="1429.70" y1="2172.00" x2="1445.50" y2="2172.00" stroke="#000" stroke-width="3.6" stroke-linecap="butt"/>
<text transform="translate(1426.02,2180.95) scale(1,1.04)" font-size="24.8" font-weight="bold" text-anchor="end">0</text>
<line x1="1441.90" y1="2172.00" x2="1947.70" y2="2172.00" stroke="#000" stroke-width="3.6" stroke-linecap="butt"/>
<line x1="1443.70" y1="2170.20" x2="1443.70" y2="2186.00" stroke="#000" stroke-width="3.6" stroke-linecap="butt"/>
<text transform="translate(1443.70,2210.91) scale(1,1.04)" font-size="24.8" font-weight="bold" text-anchor="middle">0</text>
<line x1="1611.10" y1="2170.20" x2="1611.10" y2="2186.00" stroke="#000" stroke-width="3.6" stroke-linecap="butt"/>
<text transform="translate(1611.10,2210.91) scale(1,1.04)" font-size="24.8" font-weight="bold" text-anchor="middle">2</text>
<line x1="1778.50" y1="2170.20" x2="1778.50" y2="2186.00" stroke="#000" stroke-width="3.6" stroke-linecap="butt"/>
<text transform="translate(1778.50,2210.91) scale(1,1.04)" font-size="24.8" font-weight="bold" text-anchor="middle">4</text>
<line x1="1945.90" y1="2170.20" x2="1945.90" y2="2186.00" stroke="#000" stroke-width="3.6" stroke-linecap="butt"/>
<text transform="translate(1945.90,2210.91) scale(1,1.04)" font-size="24.8" font-weight="bold" text-anchor="middle">6</text>
<line x1="1455.20" y1="1820.20" x2="1492.30" y2="1820.20" stroke="#37469C" stroke-width="1.6"/>
<circle cx="1473.75" cy="1820.20" r="4.90" fill="#3E53B6"/>
<text transform="translate(1511.90,1829.50) scale(1,1.04)" font-size="24.3" font-weight="normal">AR6949</text>
<line x1="1455.20" y1="1847.30" x2="1492.30" y2="1847.30" stroke="#6BAA2A" stroke-width="1.6"/>
<rect x="1469.00" y="1842.55" width="9.51" height="9.51" fill="#76CB1F"/>
<text transform="translate(1511.90,1856.60) scale(1,1.04)" font-size="24.3" font-weight="normal">AR6959</text>
<line x1="1455.20" y1="1873.00" x2="1492.30" y2="1873.00" stroke="#801F92" stroke-width="1.6"/>
<polygon points="1473.75,1868.14 1478.40,1877.56 1469.10,1877.56" fill="#9B1FAF"/>
<text transform="translate(1511.90,1882.30) scale(1,1.04)" font-size="24.3" font-weight="normal">AR6949 + AR6959</text>
<path d="M1637.30,2100.17 L1639.31,2097.32 L1641.33,2094.39 L1643.34,2091.38 L1645.35,2088.30 L1647.36,2085.13 L1649.38,2081.89 L1651.39,2078.58 L1653.40,2075.20 L1655.41,2071.75 L1657.43,2068.23 L1659.44,2064.64 L1661.45,2061.00 L1663.46,2057.30 L1665.48,2053.54 L1667.49,2049.74 L1669.50,2045.88 L1671.51,2041.99 L1673.53,2038.06 L1675.54,2034.09 L1677.55,2030.10 L1679.56,2026.09 L1681.58,2022.06 L1683.59,2018.01 L1685.60,2013.96 L1687.62,2009.90 L1689.63,2005.85 L1691.64,2001.81 L1693.65,1997.78 L1695.67,1993.77 L1697.68,1989.79 L1699.69,1985.83 L1701.70,1981.91 L1703.72,1978.03 L1705.73,1974.18 L1707.74,1970.39 L1709.75,1966.65 L1711.77,1962.96 L1713.78,1959.33 L1715.79,1955.76 L1717.80,1952.26 L1719.82,1948.82 L1721.83,1945.46 L1723.84,1942.16 L1725.85,1938.94 L1727.87,1935.80 L1729.88,1932.73 L1731.89,1929.74 L1733.91,1926.83 L1735.92,1924.00 L1737.93,1921.24 L1739.94,1918.57 L1741.96,1915.98 L1743.97,1913.47 L1745.98,1911.03 L1747.99,1908.68 L1750.01,1906.40 L1752.02,1904.20 L1754.03,1902.07 L1756.04,1900.02 L1758.06,1898.04 L1760.07,1896.14 L1762.08,1894.30 L1764.09,1892.53 L1766.11,1890.83 L1768.12,1889.20 L1770.13,1887.63 L1772.14,1886.12 L1774.16,1884.67 L1776.17,1883.28 L1778.18,1881.94 L1780.19,1880.67 L1782.21,1879.44 L1784.22,1878.27 L1786.23,1877.14 L1788.25,1876.07 L1790.26,1875.04 L1792.27,1874.05 L1794.28,1873.11 L1796.30,1872.21 L1798.31,1871.35 L1800.32,1870.53 L1802.33,1869.74 L1804.35,1868.99 L1806.36,1868.28 L1808.37,1867.59 L1810.38,1866.94 L1812.40,1866.32 L1814.41,1865.72 L1816.42,1865.16 L1818.43,1864.62 L1820.45,1864.10 L1822.46,1863.61 L1824.47,1863.14 L1826.48,1862.70 L1828.50,1862.27 L1830.51,1861.87 L1832.52,1861.48 L1834.54,1861.12 L1836.55,1860.77 L1838.56,1860.43 L1840.57,1860.12 L1842.59,1859.82 L1844.60,1859.53 L1846.61,1859.26 L1848.62,1859.00 L1850.64,1858.75 L1852.65,1858.51 L1854.66,1858.29 L1856.67,1858.07 L1858.69,1857.87 L1860.70,1857.68 L1862.71,1857.50 L1864.72,1857.32 L1866.74,1857.15 L1868.75,1857.00 L1870.76,1856.85 L1872.77,1856.70 L1874.79,1856.57 L1876.80,1856.44" fill="none" stroke="#801F92" stroke-width="1.75" stroke-linejoin="round"/>
<polygon points="1637.30,2094.95 1642.05,2104.55 1632.55,2104.55" fill="#9B1FAF"/>
<polygon points="1677.30,2026.65 1682.05,2036.25 1672.55,2036.25" fill="#9B1FAF"/>
<polygon points="1717.00,1946.85 1721.75,1956.45 1712.25,1956.45" fill="#9B1FAF"/>
<polygon points="1756.90,1896.25 1761.65,1905.85 1752.15,1905.85" fill="#9B1FAF"/>
<polygon points="1797.00,1866.15 1801.75,1875.75 1792.25,1875.75" fill="#9B1FAF"/>
<polygon points="1837.00,1855.45 1841.75,1865.05 1832.25,1865.05" fill="#9B1FAF"/>
<polygon points="1876.80,1849.45 1881.55,1859.05 1872.05,1859.05" fill="#9B1FAF"/>
<path d="M1637.30,2095.32 L1639.31,2093.83 L1641.33,2092.28 L1643.34,2090.66 L1645.35,2088.97 L1647.36,2087.22 L1649.38,2085.39 L1651.39,2083.49 L1653.40,2081.52 L1655.41,2079.48 L1657.43,2077.35 L1659.44,2075.16 L1661.45,2072.88 L1663.46,2070.53 L1665.48,2068.10 L1667.49,2065.60 L1669.50,2063.02 L1671.51,2060.36 L1673.53,2057.63 L1675.54,2054.83 L1677.55,2051.95 L1679.56,2049.00 L1681.58,2045.99 L1683.59,2042.91 L1685.60,2039.77 L1687.62,2036.57 L1689.63,2033.31 L1691.64,2030.00 L1693.65,2026.64 L1695.67,2023.24 L1697.68,2019.80 L1699.69,2016.33 L1701.70,2012.83 L1703.72,2009.30 L1705.73,2005.75 L1707.74,2002.19 L1709.75,1998.63 L1711.77,1995.06 L1713.78,1991.49 L1715.79,1987.93 L1717.80,1984.39 L1719.82,1980.87 L1721.83,1977.37 L1723.84,1973.90 L1725.85,1970.47 L1727.87,1967.08 L1729.88,1963.73 L1731.89,1960.43 L1733.91,1957.19 L1735.92,1954.00 L1737.93,1950.87 L1739.94,1947.80 L1741.96,1944.80 L1743.97,1941.87 L1745.98,1939.01 L1747.99,1936.22 L1750.01,1933.51 L1752.02,1930.87 L1754.03,1928.30 L1756.04,1925.81 L1758.06,1923.40 L1760.07,1921.07 L1762.08,1918.81 L1764.09,1916.63 L1766.11,1914.52 L1768.12,1912.49 L1770.13,1910.53 L1772.14,1908.65 L1774.16,1906.84 L1776.17,1905.10 L1778.18,1903.43 L1780.19,1901.82 L1782.21,1900.28 L1784.22,1898.81 L1786.23,1897.40 L1788.25,1896.05 L1790.26,1894.75 L1792.27,1893.52 L1794.28,1892.34 L1796.30,1891.21 L1798.31,1890.13 L1800.32,1889.11 L1802.33,1888.13 L1804.35,1887.19 L1806.36,1886.30 L1808.37,1885.46 L1810.38,1884.65 L1812.40,1883.88 L1814.41,1883.15 L1816.42,1882.46 L1818.43,1881.80 L1820.45,1881.17 L1822.46,1880.57 L1824.47,1880.00 L1826.48,1879.47 L1828.50,1878.95 L1830.51,1878.47 L1832.52,1878.01 L1834.54,1877.57 L1836.55,1877.16 L1838.56,1876.76 L1840.57,1876.39 L1842.59,1876.03 L1844.60,1875.70 L1846.61,1875.38 L1848.62,1875.08 L1850.64,1874.79 L1852.65,1874.52 L1854.66,1874.27 L1856.67,1874.02 L1858.69,1873.79 L1860.70,1873.57 L1862.71,1873.37 L1864.72,1873.17 L1866.74,1872.99 L1868.75,1872.81 L1870.76,1872.64 L1872.77,1872.49 L1874.79,1872.34 L1876.80,1872.20" fill="none" stroke="#6BAA2A" stroke-width="1.75" stroke-linejoin="round"/>
<rect x="1632.45" y="2089.55" width="9.70" height="9.70" fill="#76CB1F"/>
<rect x="1672.45" y="2049.55" width="9.70" height="9.70" fill="#76CB1F"/>
<rect x="1712.15" y="1979.35" width="9.70" height="9.70" fill="#76CB1F"/>
<rect x="1752.05" y="1919.15" width="9.70" height="9.70" fill="#76CB1F"/>
<rect x="1792.15" y="1888.85" width="9.70" height="9.70" fill="#76CB1F"/>
<rect x="1832.15" y="1872.05" width="9.70" height="9.70" fill="#76CB1F"/>
<rect x="1871.95" y="1865.75" width="9.70" height="9.70" fill="#76CB1F"/>
<path d="M1637.30,2129.13 L1639.31,2127.23 L1641.33,2125.29 L1643.34,2123.30 L1645.35,2121.26 L1647.36,2119.18 L1649.38,2117.05 L1651.39,2114.87 L1653.40,2112.65 L1655.41,2110.38 L1657.43,2108.08 L1659.44,2105.72 L1661.45,2103.33 L1663.46,2100.90 L1665.48,2098.43 L1667.49,2095.92 L1669.50,2093.37 L1671.51,2090.79 L1673.53,2088.18 L1675.54,2085.54 L1677.55,2082.87 L1679.56,2080.17 L1681.58,2077.45 L1683.59,2074.71 L1685.60,2071.94 L1687.62,2069.16 L1689.63,2066.37 L1691.64,2063.56 L1693.65,2060.75 L1695.67,2057.93 L1697.68,2055.10 L1699.69,2052.27 L1701.70,2049.44 L1703.72,2046.62 L1705.73,2043.81 L1707.74,2041.00 L1709.75,2038.20 L1711.77,2035.42 L1713.78,2032.66 L1715.79,2029.91 L1717.80,2027.19 L1719.82,2024.49 L1721.83,2021.82 L1723.84,2019.17 L1725.85,2016.56 L1727.87,2013.97 L1729.88,2011.42 L1731.89,2008.91 L1733.91,2006.44 L1735.92,2004.00 L1737.93,2001.60 L1739.94,1999.24 L1741.96,1996.93 L1743.97,1994.66 L1745.98,1992.44 L1747.99,1990.25 L1750.01,1988.12 L1752.02,1986.03 L1754.03,1983.99 L1756.04,1981.99 L1758.06,1980.05 L1760.07,1978.14 L1762.08,1976.29 L1764.09,1974.49 L1766.11,1972.73 L1768.12,1971.01 L1770.13,1969.35 L1772.14,1967.73 L1774.16,1966.16 L1776.17,1964.63 L1778.18,1963.14 L1780.19,1961.71 L1782.21,1960.31 L1784.22,1958.96 L1786.23,1957.65 L1788.25,1956.38 L1790.26,1955.15 L1792.27,1953.96 L1794.28,1952.81 L1796.30,1951.70 L1798.31,1950.62 L1800.32,1949.59 L1802.33,1948.58 L1804.35,1947.61 L1806.36,1946.68 L1808.37,1945.78 L1810.38,1944.91 L1812.40,1944.07 L1814.41,1943.26 L1816.42,1942.48 L1818.43,1941.73 L1820.45,1941.01 L1822.46,1940.31 L1824.47,1939.64 L1826.48,1939.00 L1828.50,1938.38 L1830.51,1937.78 L1832.52,1937.20 L1834.54,1936.65 L1836.55,1936.12 L1838.56,1935.61 L1840.57,1935.11 L1842.59,1934.64 L1844.60,1934.19 L1846.61,1933.75 L1848.62,1933.33 L1850.64,1932.93 L1852.65,1932.54 L1854.66,1932.17 L1856.67,1931.81 L1858.69,1931.47 L1860.70,1931.14 L1862.71,1930.83 L1864.72,1930.53 L1866.74,1930.23 L1868.75,1929.96 L1870.76,1929.69 L1872.77,1929.43 L1874.79,1929.19 L1876.80,1928.95" fill="none" stroke="#37469C" stroke-width="1.75" stroke-linejoin="round"/>
<circle cx="1637.30" cy="2128.20" r="5.00" fill="#3E53B6"/>
<circle cx="1677.30" cy="2084.70" r="5.00" fill="#3E53B6"/>
<circle cx="1717.00" cy="2030.80" r="5.00" fill="#3E53B6"/>
<circle cx="1756.90" cy="1970.30" r="5.00" fill="#3E53B6"/>
<circle cx="1797.00" cy="1964.10" r="5.00" fill="#3E53B6"/>
<circle cx="1837.00" cy="1933.90" r="5.00" fill="#3E53B6"/>
<circle cx="1876.80" cy="1917.00" r="5.00" fill="#3E53B6"/>
</svg>
</body></html>
